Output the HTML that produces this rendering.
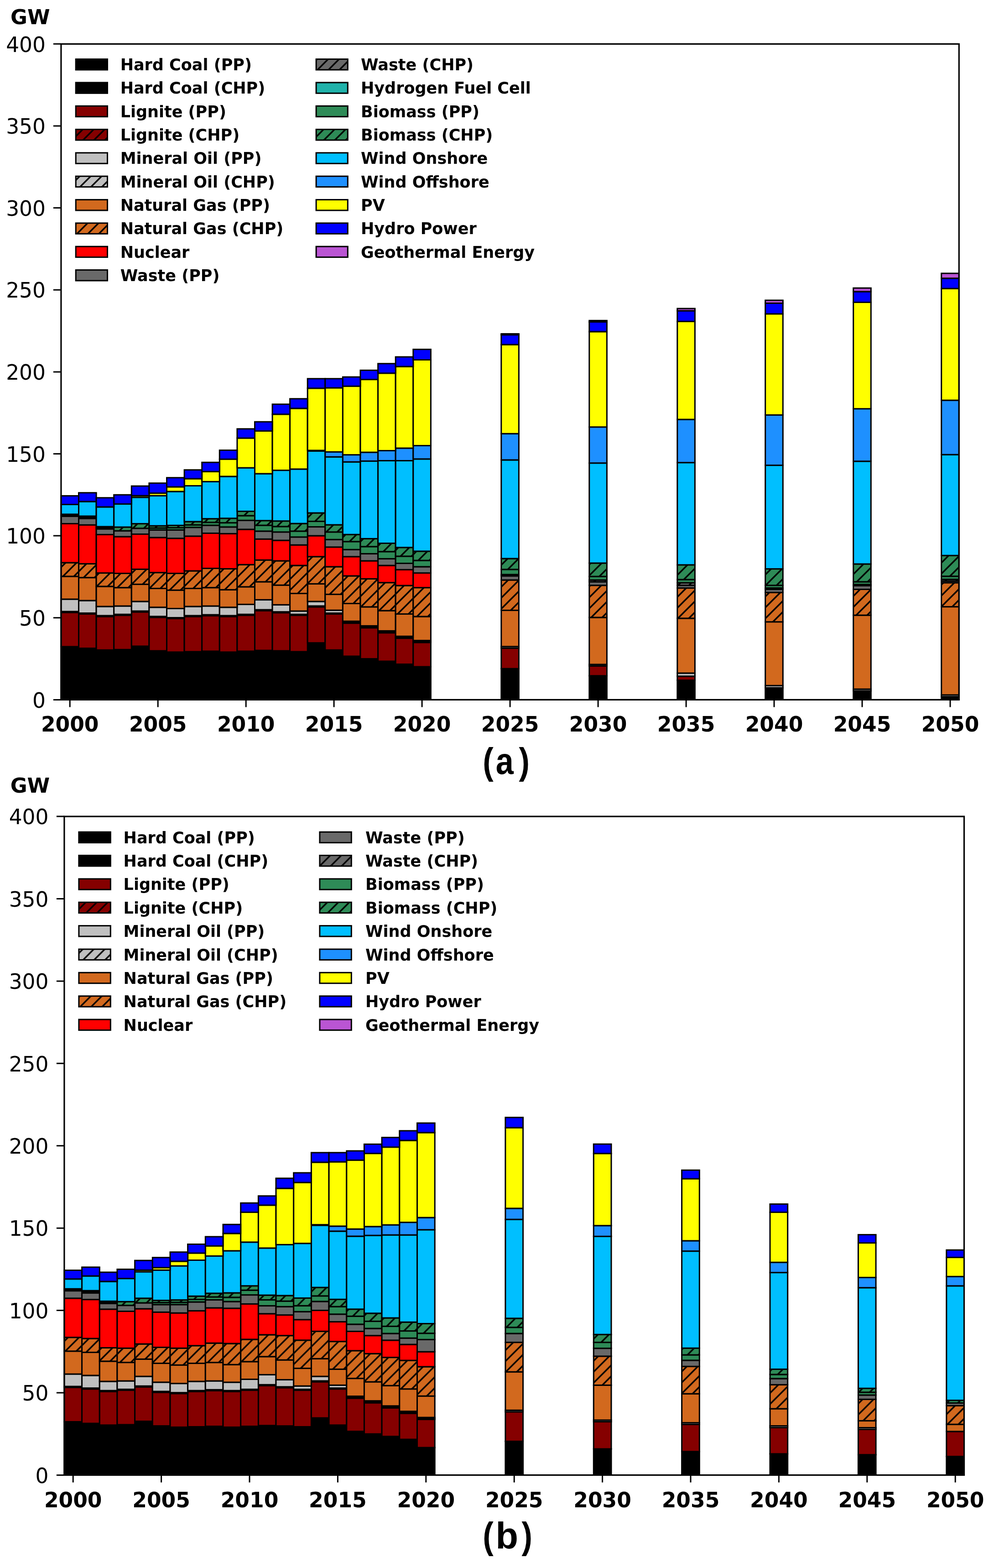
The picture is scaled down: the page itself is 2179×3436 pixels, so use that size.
<!DOCTYPE html><html><head><meta charset="utf-8"><title>Installed capacity</title><style>html,body{margin:0;padding:0;background:#fff;}svg{display:block;}.e{stroke:#000;stroke-width:3.0px;fill-opacity:1}rect.e[fill="none"]{}.yt{font-family:"DejaVu Sans","Liberation Sans",sans-serif;font-size:45.5px;text-anchor:end;fill:#000}.xt{font-family:"DejaVu Sans","Liberation Sans",sans-serif;font-weight:bold;font-size:45.5px;text-anchor:middle;fill:#000}.lg{font-family:"DejaVu Sans","Liberation Sans",sans-serif;font-weight:bold;font-size:35px;fill:#000}.gw{font-family:"DejaVu Sans","Liberation Sans",sans-serif;font-weight:bold;font-size:45px;fill:#000}.lab{font-family:"Liberation Sans",Arial,sans-serif;font-weight:bold;font-size:81px;fill:#000}</style></head><body><svg width="2179" height="3436" viewBox="0 0 2179 3436">
<defs><pattern id="ha" patternUnits="userSpaceOnUse" x="9.000" y="0" width="24.000" height="24.000"><path d="M-2,2L2,-2M0,24.000L24.000,0M22.000,26.000L26.000,22.000" stroke="#000" stroke-width="3.4"/></pattern><pattern id="hb" patternUnits="userSpaceOnUse" x="23.070" y="0" width="24.070" height="24.070"><path d="M-2,2L2,-2M0,24.070L24.070,0M22.070,26.070L26.070,22.070" stroke="#000" stroke-width="3.4"/></pattern><pattern id="hbl" patternUnits="userSpaceOnUse" x="23.070" y="0" width="24.070" height="24.070"><path d="M-2,2L2,-2M0,24.070L24.070,0M22.070,26.070L26.070,22.070" stroke="#000" stroke-width="3.4"/></pattern></defs>
<g>
<rect width="2179" height="3436" fill="#fff"/>
<g><rect x="133.9" y="1417" width="38.6" height="116.4" fill="#000000" class="e"/>
<rect x="172.5" y="1420.6" width="38.6" height="112.8" fill="#000000" class="e"/>
<rect x="211.1" y="1424.3" width="38.6" height="109.1" fill="#000000" class="e"/>
<rect x="249.7" y="1423.4" width="38.6" height="110" fill="#000000" class="e"/>
<rect x="288.3" y="1416" width="38.6" height="117.4" fill="#000000" class="e"/>
<rect x="326.9" y="1426.1" width="38.6" height="107.3" fill="#000000" class="e"/>
<rect x="365.5" y="1428.9" width="38.6" height="104.5" fill="#000000" class="e"/>
<rect x="404.1" y="1428" width="38.6" height="105.4" fill="#000000" class="e"/>
<rect x="442.7" y="1427" width="38.6" height="106.4" fill="#000000" class="e"/>
<rect x="481.3" y="1428.9" width="38.6" height="104.5" fill="#000000" class="e"/>
<rect x="519.9" y="1427" width="38.6" height="106.4" fill="#000000" class="e"/>
<rect x="558.5" y="1425.2" width="38.6" height="108.2" fill="#000000" class="e"/>
<rect x="597.1" y="1426.1" width="38.6" height="107.3" fill="#000000" class="e"/>
<rect x="635.6" y="1428" width="38.6" height="105.4" fill="#000000" class="e"/>
<rect x="674.2" y="1408.7" width="38.6" height="124.7" fill="#000000" class="e"/>
<rect x="712.8" y="1424.3" width="38.6" height="109.1" fill="#000000" class="e"/>
<rect x="751.4" y="1438" width="38.6" height="95.4" fill="#000000" class="e"/>
<rect x="790" y="1443.6" width="38.6" height="89.8" fill="#000000" class="e"/>
<rect x="828.6" y="1449" width="38.6" height="84.4" fill="#000000" class="e"/>
<rect x="867.2" y="1455.5" width="38.6" height="77.9" fill="#000000" class="e"/>
<rect x="905.8" y="1461" width="38.6" height="72.4" fill="#000000" class="e"/>
<rect x="1098.8" y="1465.2" width="38.6" height="68.2" fill="#000000" class="e"/>
<rect x="1291.8" y="1480.8" width="38.6" height="52.6" fill="#000000" class="e"/>
<rect x="1484.8" y="1490.6" width="38.6" height="42.8" fill="#000000" class="e"/>
<rect x="1677.7" y="1507.2" width="38.6" height="26.2" fill="#000000" class="e"/>
<rect x="1870.7" y="1514" width="38.6" height="19.4" fill="#000000" class="e"/>
<rect x="2063.7" y="1526.7" width="38.6" height="6.7" fill="#000000" class="e"/>
<rect x="133.9" y="1342" width="38.6" height="75" fill="#850000" class="e"/>
<rect x="172.5" y="1345.5" width="38.6" height="75.1" fill="#850000" class="e"/>
<rect x="211.1" y="1351" width="38.6" height="73.3" fill="#850000" class="e"/>
<rect x="249.7" y="1348.2" width="38.6" height="75.2" fill="#850000" class="e"/>
<rect x="288.3" y="1341" width="38.6" height="75" fill="#850000" class="e"/>
<rect x="326.9" y="1352.8" width="38.6" height="73.3" fill="#850000" class="e"/>
<rect x="365.5" y="1355.5" width="38.6" height="73.4" fill="#850000" class="e"/>
<rect x="404.1" y="1351" width="38.6" height="77" fill="#850000" class="e"/>
<rect x="442.7" y="1349.1" width="38.6" height="77.9" fill="#850000" class="e"/>
<rect x="481.3" y="1351" width="38.6" height="77.9" fill="#850000" class="e"/>
<rect x="519.9" y="1348.2" width="38.6" height="78.8" fill="#850000" class="e"/>
<rect x="558.5" y="1338.1" width="38.6" height="87.1" fill="#850000" class="e"/>
<rect x="597.1" y="1342.7" width="38.6" height="83.4" fill="#850000" class="e"/>
<rect x="635.6" y="1348.2" width="38.6" height="79.8" fill="#850000" class="e"/>
<rect x="674.2" y="1329.9" width="38.6" height="78.8" fill="#850000" class="e"/>
<rect x="712.8" y="1345.5" width="38.6" height="78.8" fill="#850000" class="e"/>
<rect x="751.4" y="1365.6" width="38.6" height="72.4" fill="#850000" class="e"/>
<rect x="790" y="1375.7" width="38.6" height="67.9" fill="#850000" class="e"/>
<rect x="828.6" y="1386.7" width="38.6" height="62.3" fill="#850000" class="e"/>
<rect x="867.2" y="1398.6" width="38.6" height="56.9" fill="#850000" class="e"/>
<rect x="905.8" y="1407.8" width="38.6" height="53.2" fill="#850000" class="e"/>
<rect x="1098.8" y="1420.3" width="38.6" height="44.9" fill="#850000" class="e"/>
<rect x="1291.8" y="1459.3" width="38.6" height="21.5" fill="#850000" class="e"/>
<rect x="1484.8" y="1481.8" width="38.6" height="8.8" fill="#850000" class="e"/>
<rect x="133.9" y="1340" width="38.6" height="2" fill="#850000"/><rect x="133.9" y="1340" width="38.6" height="2" fill="url(#ha)"/><rect x="133.9" y="1340" width="38.6" height="2" fill="none" class="e"/>
<rect x="172.5" y="1343.5" width="38.6" height="2" fill="#850000"/><rect x="172.5" y="1343.5" width="38.6" height="2" fill="url(#ha)"/><rect x="172.5" y="1343.5" width="38.6" height="2" fill="none" class="e"/>
<rect x="211.1" y="1349" width="38.6" height="2" fill="#850000"/><rect x="211.1" y="1349" width="38.6" height="2" fill="url(#ha)"/><rect x="211.1" y="1349" width="38.6" height="2" fill="none" class="e"/>
<rect x="249.7" y="1346.2" width="38.6" height="2" fill="#850000"/><rect x="249.7" y="1346.2" width="38.6" height="2" fill="url(#ha)"/><rect x="249.7" y="1346.2" width="38.6" height="2" fill="none" class="e"/>
<rect x="288.3" y="1339" width="38.6" height="2" fill="#850000"/><rect x="288.3" y="1339" width="38.6" height="2" fill="url(#ha)"/><rect x="288.3" y="1339" width="38.6" height="2" fill="none" class="e"/>
<rect x="326.9" y="1350.8" width="38.6" height="2" fill="#850000"/><rect x="326.9" y="1350.8" width="38.6" height="2" fill="url(#ha)"/><rect x="326.9" y="1350.8" width="38.6" height="2" fill="none" class="e"/>
<rect x="365.5" y="1353.5" width="38.6" height="2" fill="#850000"/><rect x="365.5" y="1353.5" width="38.6" height="2" fill="url(#ha)"/><rect x="365.5" y="1353.5" width="38.6" height="2" fill="none" class="e"/>
<rect x="404.1" y="1349" width="38.6" height="2" fill="#850000"/><rect x="404.1" y="1349" width="38.6" height="2" fill="url(#ha)"/><rect x="404.1" y="1349" width="38.6" height="2" fill="none" class="e"/>
<rect x="442.7" y="1347.1" width="38.6" height="2" fill="#850000"/><rect x="442.7" y="1347.1" width="38.6" height="2" fill="url(#ha)"/><rect x="442.7" y="1347.1" width="38.6" height="2" fill="none" class="e"/>
<rect x="481.3" y="1349" width="38.6" height="2" fill="#850000"/><rect x="481.3" y="1349" width="38.6" height="2" fill="url(#ha)"/><rect x="481.3" y="1349" width="38.6" height="2" fill="none" class="e"/>
<rect x="519.9" y="1346.2" width="38.6" height="2" fill="#850000"/><rect x="519.9" y="1346.2" width="38.6" height="2" fill="url(#ha)"/><rect x="519.9" y="1346.2" width="38.6" height="2" fill="none" class="e"/>
<rect x="558.5" y="1336.1" width="38.6" height="2" fill="#850000"/><rect x="558.5" y="1336.1" width="38.6" height="2" fill="url(#ha)"/><rect x="558.5" y="1336.1" width="38.6" height="2" fill="none" class="e"/>
<rect x="597.1" y="1340.7" width="38.6" height="2" fill="#850000"/><rect x="597.1" y="1340.7" width="38.6" height="2" fill="url(#ha)"/><rect x="597.1" y="1340.7" width="38.6" height="2" fill="none" class="e"/>
<rect x="635.6" y="1346.2" width="38.6" height="2" fill="#850000"/><rect x="635.6" y="1346.2" width="38.6" height="2" fill="url(#ha)"/><rect x="635.6" y="1346.2" width="38.6" height="2" fill="none" class="e"/>
<rect x="674.2" y="1327.9" width="38.6" height="2" fill="#850000"/><rect x="674.2" y="1327.9" width="38.6" height="2" fill="url(#ha)"/><rect x="674.2" y="1327.9" width="38.6" height="2" fill="none" class="e"/>
<rect x="712.8" y="1343.5" width="38.6" height="2" fill="#850000"/><rect x="712.8" y="1343.5" width="38.6" height="2" fill="url(#ha)"/><rect x="712.8" y="1343.5" width="38.6" height="2" fill="none" class="e"/>
<rect x="751.4" y="1363.6" width="38.6" height="2" fill="#850000"/><rect x="751.4" y="1363.6" width="38.6" height="2" fill="url(#ha)"/><rect x="751.4" y="1363.6" width="38.6" height="2" fill="none" class="e"/>
<rect x="790" y="1373.7" width="38.6" height="2" fill="#850000"/><rect x="790" y="1373.7" width="38.6" height="2" fill="url(#ha)"/><rect x="790" y="1373.7" width="38.6" height="2" fill="none" class="e"/>
<rect x="828.6" y="1384.7" width="38.6" height="2" fill="#850000"/><rect x="828.6" y="1384.7" width="38.6" height="2" fill="url(#ha)"/><rect x="828.6" y="1384.7" width="38.6" height="2" fill="none" class="e"/>
<rect x="867.2" y="1396.6" width="38.6" height="2" fill="#850000"/><rect x="867.2" y="1396.6" width="38.6" height="2" fill="url(#ha)"/><rect x="867.2" y="1396.6" width="38.6" height="2" fill="none" class="e"/>
<rect x="905.8" y="1405.8" width="38.6" height="2" fill="#850000"/><rect x="905.8" y="1405.8" width="38.6" height="2" fill="url(#ha)"/><rect x="905.8" y="1405.8" width="38.6" height="2" fill="none" class="e"/>
<rect x="133.9" y="1313" width="38.6" height="27" fill="#c0c0c0" class="e"/>
<rect x="172.5" y="1316" width="38.6" height="27.5" fill="#c0c0c0" class="e"/>
<rect x="211.1" y="1329" width="38.6" height="20" fill="#c0c0c0" class="e"/>
<rect x="249.7" y="1328" width="38.6" height="18.2" fill="#c0c0c0" class="e"/>
<rect x="288.3" y="1318" width="38.6" height="21" fill="#c0c0c0" class="e"/>
<rect x="326.9" y="1330.8" width="38.6" height="20" fill="#c0c0c0" class="e"/>
<rect x="365.5" y="1333.5" width="38.6" height="20" fill="#c0c0c0" class="e"/>
<rect x="404.1" y="1329" width="38.6" height="20" fill="#c0c0c0" class="e"/>
<rect x="442.7" y="1328" width="38.6" height="19.1" fill="#c0c0c0" class="e"/>
<rect x="481.3" y="1330.8" width="38.6" height="18.2" fill="#c0c0c0" class="e"/>
<rect x="519.9" y="1324.4" width="38.6" height="21.8" fill="#c0c0c0" class="e"/>
<rect x="558.5" y="1314.3" width="38.6" height="21.8" fill="#c0c0c0" class="e"/>
<rect x="597.1" y="1325.3" width="38.6" height="15.4" fill="#c0c0c0" class="e"/>
<rect x="635.6" y="1339" width="38.6" height="7.2" fill="#c0c0c0" class="e"/>
<rect x="674.2" y="1318" width="38.6" height="9.9" fill="#c0c0c0" class="e"/>
<rect x="712.8" y="1337.2" width="38.6" height="6.3" fill="#c0c0c0" class="e"/>
<rect x="751.4" y="1361.3" width="38.6" height="2.3" fill="#c0c0c0" class="e"/>
<rect x="790" y="1371.4" width="38.6" height="2.3" fill="#c0c0c0" class="e"/>
<rect x="828.6" y="1382.4" width="38.6" height="2.3" fill="#c0c0c0" class="e"/>
<rect x="867.2" y="1394.3" width="38.6" height="2.3" fill="#c0c0c0" class="e"/>
<rect x="905.8" y="1403.5" width="38.6" height="2.3" fill="#c0c0c0" class="e"/>
<rect x="1098.8" y="1416.8" width="38.6" height="3.5" fill="#c0c0c0" class="e"/>
<rect x="1291.8" y="1456" width="38.6" height="3.3" fill="#c0c0c0" class="e"/>
<rect x="1484.8" y="1475" width="38.6" height="6.8" fill="#c0c0c0" class="e"/>
<rect x="1677.7" y="1502.3" width="38.6" height="4.9" fill="#c0c0c0" class="e"/>
<rect x="1870.7" y="1510.1" width="38.6" height="3.9" fill="#c0c0c0" class="e"/>
<rect x="2063.7" y="1522.8" width="38.6" height="3.9" fill="#c0c0c0" class="e"/>
<rect x="133.9" y="1263" width="38.6" height="50" fill="#d2691e" class="e"/>
<rect x="172.5" y="1265.7" width="38.6" height="50.3" fill="#d2691e" class="e"/>
<rect x="211.1" y="1285" width="38.6" height="44" fill="#d2691e" class="e"/>
<rect x="249.7" y="1287.7" width="38.6" height="40.3" fill="#d2691e" class="e"/>
<rect x="288.3" y="1280.4" width="38.6" height="37.6" fill="#d2691e" class="e"/>
<rect x="326.9" y="1289.5" width="38.6" height="41.3" fill="#d2691e" class="e"/>
<rect x="365.5" y="1293.2" width="38.6" height="40.3" fill="#d2691e" class="e"/>
<rect x="404.1" y="1289.5" width="38.6" height="39.5" fill="#d2691e" class="e"/>
<rect x="442.7" y="1287.7" width="38.6" height="40.3" fill="#d2691e" class="e"/>
<rect x="481.3" y="1292.3" width="38.6" height="38.5" fill="#d2691e" class="e"/>
<rect x="519.9" y="1285.9" width="38.6" height="38.5" fill="#d2691e" class="e"/>
<rect x="558.5" y="1274.9" width="38.6" height="39.4" fill="#d2691e" class="e"/>
<rect x="597.1" y="1282.2" width="38.6" height="43.1" fill="#d2691e" class="e"/>
<rect x="635.6" y="1300.5" width="38.6" height="38.5" fill="#d2691e" class="e"/>
<rect x="674.2" y="1279.4" width="38.6" height="38.6" fill="#d2691e" class="e"/>
<rect x="712.8" y="1302.4" width="38.6" height="34.8" fill="#d2691e" class="e"/>
<rect x="751.4" y="1322.5" width="38.6" height="38.8" fill="#d2691e" class="e"/>
<rect x="790" y="1329.9" width="38.6" height="41.5" fill="#d2691e" class="e"/>
<rect x="828.6" y="1338.1" width="38.6" height="44.3" fill="#d2691e" class="e"/>
<rect x="867.2" y="1345.5" width="38.6" height="48.8" fill="#d2691e" class="e"/>
<rect x="905.8" y="1351" width="38.6" height="52.5" fill="#d2691e" class="e"/>
<rect x="1098.8" y="1337.4" width="38.6" height="79.4" fill="#d2691e" class="e"/>
<rect x="1291.8" y="1353" width="38.6" height="103" fill="#d2691e" class="e"/>
<rect x="1484.8" y="1354.9" width="38.6" height="120.1" fill="#d2691e" class="e"/>
<rect x="1677.7" y="1362.7" width="38.6" height="139.6" fill="#d2691e" class="e"/>
<rect x="1870.7" y="1348.1" width="38.6" height="162" fill="#d2691e" class="e"/>
<rect x="2063.7" y="1329.6" width="38.6" height="193.2" fill="#d2691e" class="e"/>
<rect x="133.9" y="1233" width="38.6" height="30" fill="#d2691e"/><rect x="133.9" y="1233" width="38.6" height="30" fill="url(#ha)"/><rect x="133.9" y="1233" width="38.6" height="30" fill="none" class="e"/>
<rect x="172.5" y="1235.4" width="38.6" height="30.3" fill="#d2691e"/><rect x="172.5" y="1235.4" width="38.6" height="30.3" fill="url(#ha)"/><rect x="172.5" y="1235.4" width="38.6" height="30.3" fill="none" class="e"/>
<rect x="211.1" y="1255.6" width="38.6" height="29.4" fill="#d2691e"/><rect x="211.1" y="1255.6" width="38.6" height="29.4" fill="url(#ha)"/><rect x="211.1" y="1255.6" width="38.6" height="29.4" fill="none" class="e"/>
<rect x="249.7" y="1256.5" width="38.6" height="31.2" fill="#d2691e"/><rect x="249.7" y="1256.5" width="38.6" height="31.2" fill="url(#ha)"/><rect x="249.7" y="1256.5" width="38.6" height="31.2" fill="none" class="e"/>
<rect x="288.3" y="1247.4" width="38.6" height="33" fill="#d2691e"/><rect x="288.3" y="1247.4" width="38.6" height="33" fill="url(#ha)"/><rect x="288.3" y="1247.4" width="38.6" height="33" fill="none" class="e"/>
<rect x="326.9" y="1254.7" width="38.6" height="34.8" fill="#d2691e"/><rect x="326.9" y="1254.7" width="38.6" height="34.8" fill="url(#ha)"/><rect x="326.9" y="1254.7" width="38.6" height="34.8" fill="none" class="e"/>
<rect x="365.5" y="1256.5" width="38.6" height="36.7" fill="#d2691e"/><rect x="365.5" y="1256.5" width="38.6" height="36.7" fill="url(#ha)"/><rect x="365.5" y="1256.5" width="38.6" height="36.7" fill="none" class="e"/>
<rect x="404.1" y="1251" width="38.6" height="38.5" fill="#d2691e"/><rect x="404.1" y="1251" width="38.6" height="38.5" fill="url(#ha)"/><rect x="404.1" y="1251" width="38.6" height="38.5" fill="none" class="e"/>
<rect x="442.7" y="1245.5" width="38.6" height="42.2" fill="#d2691e"/><rect x="442.7" y="1245.5" width="38.6" height="42.2" fill="url(#ha)"/><rect x="442.7" y="1245.5" width="38.6" height="42.2" fill="none" class="e"/>
<rect x="481.3" y="1246.4" width="38.6" height="45.9" fill="#d2691e"/><rect x="481.3" y="1246.4" width="38.6" height="45.9" fill="url(#ha)"/><rect x="481.3" y="1246.4" width="38.6" height="45.9" fill="none" class="e"/>
<rect x="519.9" y="1237.3" width="38.6" height="48.6" fill="#d2691e"/><rect x="519.9" y="1237.3" width="38.6" height="48.6" fill="url(#ha)"/><rect x="519.9" y="1237.3" width="38.6" height="48.6" fill="none" class="e"/>
<rect x="558.5" y="1227.2" width="38.6" height="47.7" fill="#d2691e"/><rect x="558.5" y="1227.2" width="38.6" height="47.7" fill="url(#ha)"/><rect x="558.5" y="1227.2" width="38.6" height="47.7" fill="none" class="e"/>
<rect x="597.1" y="1229" width="38.6" height="53.2" fill="#d2691e"/><rect x="597.1" y="1229" width="38.6" height="53.2" fill="url(#ha)"/><rect x="597.1" y="1229" width="38.6" height="53.2" fill="none" class="e"/>
<rect x="635.6" y="1239.1" width="38.6" height="61.4" fill="#d2691e"/><rect x="635.6" y="1239.1" width="38.6" height="61.4" fill="url(#ha)"/><rect x="635.6" y="1239.1" width="38.6" height="61.4" fill="none" class="e"/>
<rect x="674.2" y="1219.8" width="38.6" height="59.6" fill="#d2691e"/><rect x="674.2" y="1219.8" width="38.6" height="59.6" fill="url(#ha)"/><rect x="674.2" y="1219.8" width="38.6" height="59.6" fill="none" class="e"/>
<rect x="712.8" y="1241.9" width="38.6" height="60.5" fill="#d2691e"/><rect x="712.8" y="1241.9" width="38.6" height="60.5" fill="url(#ha)"/><rect x="712.8" y="1241.9" width="38.6" height="60.5" fill="none" class="e"/>
<rect x="751.4" y="1262" width="38.6" height="60.5" fill="#d2691e"/><rect x="751.4" y="1262" width="38.6" height="60.5" fill="url(#ha)"/><rect x="751.4" y="1262" width="38.6" height="60.5" fill="none" class="e"/>
<rect x="790" y="1268.4" width="38.6" height="61.5" fill="#d2691e"/><rect x="790" y="1268.4" width="38.6" height="61.5" fill="url(#ha)"/><rect x="790" y="1268.4" width="38.6" height="61.5" fill="none" class="e"/>
<rect x="828.6" y="1276.7" width="38.6" height="61.4" fill="#d2691e"/><rect x="828.6" y="1276.7" width="38.6" height="61.4" fill="url(#ha)"/><rect x="828.6" y="1276.7" width="38.6" height="61.4" fill="none" class="e"/>
<rect x="867.2" y="1283.1" width="38.6" height="62.4" fill="#d2691e"/><rect x="867.2" y="1283.1" width="38.6" height="62.4" fill="url(#ha)"/><rect x="867.2" y="1283.1" width="38.6" height="62.4" fill="none" class="e"/>
<rect x="905.8" y="1287.7" width="38.6" height="63.3" fill="#d2691e"/><rect x="905.8" y="1287.7" width="38.6" height="63.3" fill="url(#ha)"/><rect x="905.8" y="1287.7" width="38.6" height="63.3" fill="none" class="e"/>
<rect x="1098.8" y="1271" width="38.6" height="66.4" fill="#d2691e"/><rect x="1098.8" y="1271" width="38.6" height="66.4" fill="url(#ha)"/><rect x="1098.8" y="1271" width="38.6" height="66.4" fill="none" class="e"/>
<rect x="1291.8" y="1282.7" width="38.6" height="70.3" fill="#d2691e"/><rect x="1291.8" y="1282.7" width="38.6" height="70.3" fill="url(#ha)"/><rect x="1291.8" y="1282.7" width="38.6" height="70.3" fill="none" class="e"/>
<rect x="1484.8" y="1288.6" width="38.6" height="66.3" fill="#d2691e"/><rect x="1484.8" y="1288.6" width="38.6" height="66.3" fill="url(#ha)"/><rect x="1484.8" y="1288.6" width="38.6" height="66.3" fill="none" class="e"/>
<rect x="1677.7" y="1298.3" width="38.6" height="64.4" fill="#d2691e"/><rect x="1677.7" y="1298.3" width="38.6" height="64.4" fill="url(#ha)"/><rect x="1677.7" y="1298.3" width="38.6" height="64.4" fill="none" class="e"/>
<rect x="1870.7" y="1291.5" width="38.6" height="56.6" fill="#d2691e"/><rect x="1870.7" y="1291.5" width="38.6" height="56.6" fill="url(#ha)"/><rect x="1870.7" y="1291.5" width="38.6" height="56.6" fill="none" class="e"/>
<rect x="2063.7" y="1276.9" width="38.6" height="52.7" fill="#d2691e"/><rect x="2063.7" y="1276.9" width="38.6" height="52.7" fill="url(#ha)"/><rect x="2063.7" y="1276.9" width="38.6" height="52.7" fill="none" class="e"/>
<rect x="133.9" y="1147.5" width="38.6" height="85.5" fill="#ff0000" class="e"/>
<rect x="172.5" y="1150.3" width="38.6" height="85.1" fill="#ff0000" class="e"/>
<rect x="211.1" y="1171.4" width="38.6" height="84.2" fill="#ff0000" class="e"/>
<rect x="249.7" y="1176" width="38.6" height="80.5" fill="#ff0000" class="e"/>
<rect x="288.3" y="1170.5" width="38.6" height="76.9" fill="#ff0000" class="e"/>
<rect x="326.9" y="1177.9" width="38.6" height="76.8" fill="#ff0000" class="e"/>
<rect x="365.5" y="1179.7" width="38.6" height="76.8" fill="#ff0000" class="e"/>
<rect x="404.1" y="1174.9" width="38.6" height="76.1" fill="#ff0000" class="e"/>
<rect x="442.7" y="1168.5" width="38.6" height="77" fill="#ff0000" class="e"/>
<rect x="481.3" y="1169.4" width="38.6" height="77" fill="#ff0000" class="e"/>
<rect x="519.9" y="1160" width="38.6" height="77.3" fill="#ff0000" class="e"/>
<rect x="558.5" y="1181.3" width="38.6" height="45.9" fill="#ff0000" class="e"/>
<rect x="597.1" y="1184.1" width="38.6" height="44.9" fill="#ff0000" class="e"/>
<rect x="635.6" y="1194.2" width="38.6" height="44.9" fill="#ff0000" class="e"/>
<rect x="674.2" y="1174" width="38.6" height="45.8" fill="#ff0000" class="e"/>
<rect x="712.8" y="1198.8" width="38.6" height="43.1" fill="#ff0000" class="e"/>
<rect x="751.4" y="1219.8" width="38.6" height="42.2" fill="#ff0000" class="e"/>
<rect x="790" y="1229" width="38.6" height="39.4" fill="#ff0000" class="e"/>
<rect x="828.6" y="1239.1" width="38.6" height="37.6" fill="#ff0000" class="e"/>
<rect x="867.2" y="1248.3" width="38.6" height="34.8" fill="#ff0000" class="e"/>
<rect x="905.8" y="1255.6" width="38.6" height="32.1" fill="#ff0000" class="e"/>
<rect x="133.9" y="1131.3" width="38.6" height="16.2" fill="#696969" class="e"/>
<rect x="172.5" y="1136" width="38.6" height="14.3" fill="#696969" class="e"/>
<rect x="211.1" y="1159" width="38.6" height="12.4" fill="#696969" class="e"/>
<rect x="249.7" y="1163.2" width="38.6" height="12.8" fill="#696969" class="e"/>
<rect x="288.3" y="1157.7" width="38.6" height="12.8" fill="#696969" class="e"/>
<rect x="326.9" y="1161.4" width="38.6" height="16.5" fill="#696969" class="e"/>
<rect x="365.5" y="1161.4" width="38.6" height="18.3" fill="#696969" class="e"/>
<rect x="404.1" y="1155.7" width="38.6" height="19.2" fill="#696969" class="e"/>
<rect x="442.7" y="1151.1" width="38.6" height="17.4" fill="#696969" class="e"/>
<rect x="481.3" y="1154.8" width="38.6" height="14.6" fill="#696969" class="e"/>
<rect x="519.9" y="1140.3" width="38.6" height="19.7" fill="#696969" class="e"/>
<rect x="558.5" y="1163.9" width="38.6" height="17.4" fill="#696969" class="e"/>
<rect x="597.1" y="1165.8" width="38.6" height="18.3" fill="#696969" class="e"/>
<rect x="635.6" y="1176.8" width="38.6" height="17.4" fill="#696969" class="e"/>
<rect x="674.2" y="1154.5" width="38.6" height="19.5" fill="#696969" class="e"/>
<rect x="712.8" y="1182.3" width="38.6" height="16.5" fill="#696969" class="e"/>
<rect x="751.4" y="1204.3" width="38.6" height="15.5" fill="#696969" class="e"/>
<rect x="790" y="1213.4" width="38.6" height="15.6" fill="#696969" class="e"/>
<rect x="828.6" y="1224.4" width="38.6" height="14.7" fill="#696969" class="e"/>
<rect x="867.2" y="1234.5" width="38.6" height="13.8" fill="#696969" class="e"/>
<rect x="905.8" y="1241.9" width="38.6" height="13.7" fill="#696969" class="e"/>
<rect x="1098.8" y="1262" width="38.6" height="9" fill="#696969" class="e"/>
<rect x="1291.8" y="1274.9" width="38.6" height="7.8" fill="#696969" class="e"/>
<rect x="1484.8" y="1282.7" width="38.6" height="5.9" fill="#696969" class="e"/>
<rect x="1677.7" y="1291.5" width="38.6" height="6.8" fill="#696969" class="e"/>
<rect x="1870.7" y="1283.5" width="38.6" height="8" fill="#696969" class="e"/>
<rect x="2063.7" y="1273.2" width="38.6" height="3.7" fill="#696969" class="e"/>
<rect x="133.9" y="1129.1" width="38.6" height="2.2" fill="#696969"/><rect x="133.9" y="1129.1" width="38.6" height="2.2" fill="url(#ha)"/><rect x="133.9" y="1129.1" width="38.6" height="2.2" fill="none" class="e"/>
<rect x="172.5" y="1133.5" width="38.6" height="2.5" fill="#696969"/><rect x="172.5" y="1133.5" width="38.6" height="2.5" fill="url(#ha)"/><rect x="172.5" y="1133.5" width="38.6" height="2.5" fill="none" class="e"/>
<rect x="211.1" y="1156.5" width="38.6" height="2.5" fill="#696969"/><rect x="211.1" y="1156.5" width="38.6" height="2.5" fill="url(#ha)"/><rect x="211.1" y="1156.5" width="38.6" height="2.5" fill="none" class="e"/>
<rect x="1098.8" y="1259" width="38.6" height="3" fill="#696969"/><rect x="1098.8" y="1259" width="38.6" height="3" fill="url(#ha)"/><rect x="1098.8" y="1259" width="38.6" height="3" fill="none" class="e"/>
<rect x="1291.8" y="1271" width="38.6" height="3.9" fill="#696969"/><rect x="1291.8" y="1271" width="38.6" height="3.9" fill="url(#ha)"/><rect x="1291.8" y="1271" width="38.6" height="3.9" fill="none" class="e"/>
<rect x="1484.8" y="1277" width="38.6" height="5.7" fill="#696969"/><rect x="1484.8" y="1277" width="38.6" height="5.7" fill="url(#ha)"/><rect x="1484.8" y="1277" width="38.6" height="5.7" fill="none" class="e"/>
<rect x="1677.7" y="1288.5" width="38.6" height="3" fill="#696969"/><rect x="1677.7" y="1288.5" width="38.6" height="3" fill="url(#ha)"/><rect x="1677.7" y="1288.5" width="38.6" height="3" fill="none" class="e"/>
<rect x="1870.7" y="1280.8" width="38.6" height="2.7" fill="#696969"/><rect x="1870.7" y="1280.8" width="38.6" height="2.7" fill="url(#ha)"/><rect x="1870.7" y="1280.8" width="38.6" height="2.7" fill="none" class="e"/>
<rect x="2063.7" y="1269.6" width="38.6" height="3.6" fill="#696969"/><rect x="2063.7" y="1269.6" width="38.6" height="3.6" fill="url(#ha)"/><rect x="2063.7" y="1269.6" width="38.6" height="3.6" fill="none" class="e"/>
<rect x="133.9" y="1126.9" width="38.6" height="2.2" fill="#2e8b57" class="e"/>
<rect x="172.5" y="1131" width="38.6" height="2.5" fill="#2e8b57" class="e"/>
<rect x="211.1" y="1154" width="38.6" height="2.5" fill="#2e8b57" class="e"/>
<rect x="326.9" y="1157" width="38.6" height="4.4" fill="#2e8b57" class="e"/>
<rect x="365.5" y="1156.5" width="38.6" height="4.9" fill="#2e8b57" class="e"/>
<rect x="404.1" y="1150.2" width="38.6" height="5.5" fill="#2e8b57" class="e"/>
<rect x="442.7" y="1144.7" width="38.6" height="6.4" fill="#2e8b57" class="e"/>
<rect x="481.3" y="1145.6" width="38.6" height="9.2" fill="#2e8b57" class="e"/>
<rect x="519.9" y="1130" width="38.6" height="10.3" fill="#2e8b57" class="e"/>
<rect x="558.5" y="1151.1" width="38.6" height="12.8" fill="#2e8b57" class="e"/>
<rect x="597.1" y="1153.8" width="38.6" height="12" fill="#2e8b57" class="e"/>
<rect x="635.6" y="1163.9" width="38.6" height="12.9" fill="#2e8b57" class="e"/>
<rect x="674.2" y="1142.5" width="38.6" height="12" fill="#2e8b57" class="e"/>
<rect x="712.8" y="1165.8" width="38.6" height="16.5" fill="#2e8b57" class="e"/>
<rect x="751.4" y="1186.8" width="38.6" height="17.5" fill="#2e8b57" class="e"/>
<rect x="790" y="1197.8" width="38.6" height="15.6" fill="#2e8b57" class="e"/>
<rect x="828.6" y="1208.8" width="38.6" height="15.6" fill="#2e8b57" class="e"/>
<rect x="867.2" y="1218.9" width="38.6" height="15.6" fill="#2e8b57" class="e"/>
<rect x="905.8" y="1228.1" width="38.6" height="13.8" fill="#2e8b57" class="e"/>
<rect x="1098.8" y="1247.8" width="38.6" height="11.2" fill="#2e8b57" class="e"/>
<rect x="1291.8" y="1263.2" width="38.6" height="7.8" fill="#2e8b57" class="e"/>
<rect x="1484.8" y="1270" width="38.6" height="7" fill="#2e8b57" class="e"/>
<rect x="1677.7" y="1282.7" width="38.6" height="5.8" fill="#2e8b57" class="e"/>
<rect x="1870.7" y="1274.9" width="38.6" height="5.9" fill="#2e8b57" class="e"/>
<rect x="2063.7" y="1262.8" width="38.6" height="6.8" fill="#2e8b57" class="e"/>
<rect x="249.7" y="1155" width="38.6" height="8.2" fill="#2e8b57"/><rect x="249.7" y="1155" width="38.6" height="8.2" fill="url(#ha)"/><rect x="249.7" y="1155" width="38.6" height="8.2" fill="none" class="e"/>
<rect x="288.3" y="1147.6" width="38.6" height="10.1" fill="#2e8b57"/><rect x="288.3" y="1147.6" width="38.6" height="10.1" fill="url(#ha)"/><rect x="288.3" y="1147.6" width="38.6" height="10.1" fill="none" class="e"/>
<rect x="326.9" y="1152.2" width="38.6" height="4.8" fill="#2e8b57"/><rect x="326.9" y="1152.2" width="38.6" height="4.8" fill="url(#ha)"/><rect x="326.9" y="1152.2" width="38.6" height="4.8" fill="none" class="e"/>
<rect x="365.5" y="1151.3" width="38.6" height="5.2" fill="#2e8b57"/><rect x="365.5" y="1151.3" width="38.6" height="5.2" fill="url(#ha)"/><rect x="365.5" y="1151.3" width="38.6" height="5.2" fill="none" class="e"/>
<rect x="404.1" y="1143" width="38.6" height="7.2" fill="#2e8b57"/><rect x="404.1" y="1143" width="38.6" height="7.2" fill="url(#ha)"/><rect x="404.1" y="1143" width="38.6" height="7.2" fill="none" class="e"/>
<rect x="442.7" y="1136.7" width="38.6" height="8" fill="#2e8b57"/><rect x="442.7" y="1136.7" width="38.6" height="8" fill="url(#ha)"/><rect x="442.7" y="1136.7" width="38.6" height="8" fill="none" class="e"/>
<rect x="481.3" y="1135.8" width="38.6" height="9.8" fill="#2e8b57"/><rect x="481.3" y="1135.8" width="38.6" height="9.8" fill="url(#ha)"/><rect x="481.3" y="1135.8" width="38.6" height="9.8" fill="none" class="e"/>
<rect x="519.9" y="1120.5" width="38.6" height="9.5" fill="#2e8b57"/><rect x="519.9" y="1120.5" width="38.6" height="9.5" fill="url(#ha)"/><rect x="519.9" y="1120.5" width="38.6" height="9.5" fill="none" class="e"/>
<rect x="558.5" y="1140.8" width="38.6" height="10.3" fill="#2e8b57"/><rect x="558.5" y="1140.8" width="38.6" height="10.3" fill="url(#ha)"/><rect x="558.5" y="1140.8" width="38.6" height="10.3" fill="none" class="e"/>
<rect x="597.1" y="1141.7" width="38.6" height="12.1" fill="#2e8b57"/><rect x="597.1" y="1141.7" width="38.6" height="12.1" fill="url(#ha)"/><rect x="597.1" y="1141.7" width="38.6" height="12.1" fill="none" class="e"/>
<rect x="635.6" y="1147.2" width="38.6" height="16.7" fill="#2e8b57"/><rect x="635.6" y="1147.2" width="38.6" height="16.7" fill="url(#ha)"/><rect x="635.6" y="1147.2" width="38.6" height="16.7" fill="none" class="e"/>
<rect x="674.2" y="1124" width="38.6" height="18.5" fill="#2e8b57"/><rect x="674.2" y="1124" width="38.6" height="18.5" fill="url(#ha)"/><rect x="674.2" y="1124" width="38.6" height="18.5" fill="none" class="e"/>
<rect x="712.8" y="1150" width="38.6" height="15.8" fill="#2e8b57"/><rect x="712.8" y="1150" width="38.6" height="15.8" fill="url(#ha)"/><rect x="712.8" y="1150" width="38.6" height="15.8" fill="none" class="e"/>
<rect x="751.4" y="1171.3" width="38.6" height="15.5" fill="#2e8b57"/><rect x="751.4" y="1171.3" width="38.6" height="15.5" fill="url(#ha)"/><rect x="751.4" y="1171.3" width="38.6" height="15.5" fill="none" class="e"/>
<rect x="790" y="1180.4" width="38.6" height="17.4" fill="#2e8b57"/><rect x="790" y="1180.4" width="38.6" height="17.4" fill="url(#ha)"/><rect x="790" y="1180.4" width="38.6" height="17.4" fill="none" class="e"/>
<rect x="828.6" y="1190.5" width="38.6" height="18.3" fill="#2e8b57"/><rect x="828.6" y="1190.5" width="38.6" height="18.3" fill="url(#ha)"/><rect x="828.6" y="1190.5" width="38.6" height="18.3" fill="none" class="e"/>
<rect x="867.2" y="1199.7" width="38.6" height="19.2" fill="#2e8b57"/><rect x="867.2" y="1199.7" width="38.6" height="19.2" fill="url(#ha)"/><rect x="867.2" y="1199.7" width="38.6" height="19.2" fill="none" class="e"/>
<rect x="905.8" y="1207.9" width="38.6" height="20.2" fill="#2e8b57"/><rect x="905.8" y="1207.9" width="38.6" height="20.2" fill="url(#ha)"/><rect x="905.8" y="1207.9" width="38.6" height="20.2" fill="none" class="e"/>
<rect x="1098.8" y="1224" width="38.6" height="23.8" fill="#2e8b57"/><rect x="1098.8" y="1224" width="38.6" height="23.8" fill="url(#ha)"/><rect x="1098.8" y="1224" width="38.6" height="23.8" fill="none" class="e"/>
<rect x="1291.8" y="1233.9" width="38.6" height="29.3" fill="#2e8b57"/><rect x="1291.8" y="1233.9" width="38.6" height="29.3" fill="url(#ha)"/><rect x="1291.8" y="1233.9" width="38.6" height="29.3" fill="none" class="e"/>
<rect x="1484.8" y="1237.8" width="38.6" height="32.2" fill="#2e8b57"/><rect x="1484.8" y="1237.8" width="38.6" height="32.2" fill="url(#ha)"/><rect x="1484.8" y="1237.8" width="38.6" height="32.2" fill="none" class="e"/>
<rect x="1677.7" y="1246.6" width="38.6" height="36.1" fill="#2e8b57"/><rect x="1677.7" y="1246.6" width="38.6" height="36.1" fill="url(#ha)"/><rect x="1677.7" y="1246.6" width="38.6" height="36.1" fill="none" class="e"/>
<rect x="1870.7" y="1235.9" width="38.6" height="39" fill="#2e8b57"/><rect x="1870.7" y="1235.9" width="38.6" height="39" fill="url(#ha)"/><rect x="1870.7" y="1235.9" width="38.6" height="39" fill="none" class="e"/>
<rect x="2063.7" y="1217.3" width="38.6" height="45.5" fill="#2e8b57"/><rect x="2063.7" y="1217.3" width="38.6" height="45.5" fill="url(#ha)"/><rect x="2063.7" y="1217.3" width="38.6" height="45.5" fill="none" class="e"/>
<rect x="133.9" y="1105.5" width="38.6" height="21.4" fill="#00bfff" class="e"/>
<rect x="172.5" y="1099" width="38.6" height="32" fill="#00bfff" class="e"/>
<rect x="211.1" y="1110.9" width="38.6" height="43.1" fill="#00bfff" class="e"/>
<rect x="249.7" y="1104.5" width="38.6" height="50.5" fill="#00bfff" class="e"/>
<rect x="288.3" y="1089.8" width="38.6" height="57.8" fill="#00bfff" class="e"/>
<rect x="326.9" y="1086.2" width="38.6" height="66" fill="#00bfff" class="e"/>
<rect x="365.5" y="1077" width="38.6" height="74.3" fill="#00bfff" class="e"/>
<rect x="404.1" y="1064.5" width="38.6" height="78.5" fill="#00bfff" class="e"/>
<rect x="442.7" y="1055.4" width="38.6" height="81.3" fill="#00bfff" class="e"/>
<rect x="481.3" y="1044" width="38.6" height="91.8" fill="#00bfff" class="e"/>
<rect x="519.9" y="1025.1" width="38.6" height="95.4" fill="#00bfff" class="e"/>
<rect x="558.5" y="1038" width="38.6" height="102.8" fill="#00bfff" class="e"/>
<rect x="597.1" y="1030.6" width="38.6" height="111.1" fill="#00bfff" class="e"/>
<rect x="635.6" y="1027.9" width="38.6" height="119.3" fill="#00bfff" class="e"/>
<rect x="674.2" y="988.4" width="38.6" height="135.6" fill="#00bfff" class="e"/>
<rect x="712.8" y="1001.2" width="38.6" height="148.8" fill="#00bfff" class="e"/>
<rect x="751.4" y="1012.2" width="38.6" height="159.1" fill="#00bfff" class="e"/>
<rect x="790" y="1010.4" width="38.6" height="170" fill="#00bfff" class="e"/>
<rect x="828.6" y="1009.5" width="38.6" height="181" fill="#00bfff" class="e"/>
<rect x="867.2" y="1009.5" width="38.6" height="190.2" fill="#00bfff" class="e"/>
<rect x="905.8" y="1005.8" width="38.6" height="202.1" fill="#00bfff" class="e"/>
<rect x="1098.8" y="1007.9" width="38.6" height="216.1" fill="#00bfff" class="e"/>
<rect x="1291.8" y="1014.7" width="38.6" height="219.2" fill="#00bfff" class="e"/>
<rect x="1484.8" y="1013.7" width="38.6" height="224.1" fill="#00bfff" class="e"/>
<rect x="1677.7" y="1019.6" width="38.6" height="227" fill="#00bfff" class="e"/>
<rect x="1870.7" y="1010.8" width="38.6" height="225.1" fill="#00bfff" class="e"/>
<rect x="2063.7" y="996.2" width="38.6" height="221.1" fill="#00bfff" class="e"/>
<rect x="674.2" y="987" width="38.6" height="1.4" fill="#1e90ff" class="e"/>
<rect x="712.8" y="990.2" width="38.6" height="11" fill="#1e90ff" class="e"/>
<rect x="751.4" y="996.6" width="38.6" height="15.6" fill="#1e90ff" class="e"/>
<rect x="790" y="991.1" width="38.6" height="19.3" fill="#1e90ff" class="e"/>
<rect x="828.6" y="987.5" width="38.6" height="22" fill="#1e90ff" class="e"/>
<rect x="867.2" y="982" width="38.6" height="27.5" fill="#1e90ff" class="e"/>
<rect x="905.8" y="976.5" width="38.6" height="29.3" fill="#1e90ff" class="e"/>
<rect x="1098.8" y="950.3" width="38.6" height="57.6" fill="#1e90ff" class="e"/>
<rect x="1291.8" y="935.7" width="38.6" height="79" fill="#1e90ff" class="e"/>
<rect x="1484.8" y="919.1" width="38.6" height="94.6" fill="#1e90ff" class="e"/>
<rect x="1677.7" y="909.3" width="38.6" height="110.3" fill="#1e90ff" class="e"/>
<rect x="1870.7" y="895.7" width="38.6" height="115.1" fill="#1e90ff" class="e"/>
<rect x="2063.7" y="877.1" width="38.6" height="119.1" fill="#1e90ff" class="e"/>
<rect x="288.3" y="1086.2" width="38.6" height="3.6" fill="#ffff00" class="e"/>
<rect x="326.9" y="1080.7" width="38.6" height="5.5" fill="#ffff00" class="e"/>
<rect x="365.5" y="1066.9" width="38.6" height="10.1" fill="#ffff00" class="e"/>
<rect x="404.1" y="1049" width="38.6" height="15.5" fill="#ffff00" class="e"/>
<rect x="442.7" y="1033.4" width="38.6" height="22" fill="#ffff00" class="e"/>
<rect x="481.3" y="1006.2" width="38.6" height="37.8" fill="#ffff00" class="e"/>
<rect x="519.9" y="960" width="38.6" height="65.1" fill="#ffff00" class="e"/>
<rect x="558.5" y="944.4" width="38.6" height="93.6" fill="#ffff00" class="e"/>
<rect x="597.1" y="907.8" width="38.6" height="122.8" fill="#ffff00" class="e"/>
<rect x="635.6" y="894.9" width="38.6" height="133" fill="#ffff00" class="e"/>
<rect x="674.2" y="850.8" width="38.6" height="136.2" fill="#ffff00" class="e"/>
<rect x="712.8" y="849.9" width="38.6" height="140.3" fill="#ffff00" class="e"/>
<rect x="751.4" y="846.3" width="38.6" height="150.3" fill="#ffff00" class="e"/>
<rect x="790" y="831.6" width="38.6" height="159.5" fill="#ffff00" class="e"/>
<rect x="828.6" y="817.8" width="38.6" height="169.7" fill="#ffff00" class="e"/>
<rect x="867.2" y="803.2" width="38.6" height="178.8" fill="#ffff00" class="e"/>
<rect x="905.8" y="788.5" width="38.6" height="188" fill="#ffff00" class="e"/>
<rect x="1098.8" y="755.1" width="38.6" height="195.2" fill="#ffff00" class="e"/>
<rect x="1291.8" y="726.8" width="38.6" height="208.9" fill="#ffff00" class="e"/>
<rect x="1484.8" y="704.4" width="38.6" height="214.7" fill="#ffff00" class="e"/>
<rect x="1677.7" y="687.8" width="38.6" height="221.5" fill="#ffff00" class="e"/>
<rect x="1870.7" y="662.5" width="38.6" height="233.2" fill="#ffff00" class="e"/>
<rect x="2063.7" y="632.2" width="38.6" height="244.9" fill="#ffff00" class="e"/>
<rect x="133.9" y="1086.5" width="38.6" height="19" fill="#0000ff" class="e"/>
<rect x="172.5" y="1079.8" width="38.6" height="19.2" fill="#0000ff" class="e"/>
<rect x="211.1" y="1090.8" width="38.6" height="20.1" fill="#0000ff" class="e"/>
<rect x="249.7" y="1084.3" width="38.6" height="20.2" fill="#0000ff" class="e"/>
<rect x="288.3" y="1065.1" width="38.6" height="21.1" fill="#0000ff" class="e"/>
<rect x="326.9" y="1058.7" width="38.6" height="22" fill="#0000ff" class="e"/>
<rect x="365.5" y="1046.8" width="38.6" height="20.1" fill="#0000ff" class="e"/>
<rect x="404.1" y="1029.7" width="38.6" height="19.3" fill="#0000ff" class="e"/>
<rect x="442.7" y="1013.2" width="38.6" height="20.2" fill="#0000ff" class="e"/>
<rect x="481.3" y="986.6" width="38.6" height="19.6" fill="#0000ff" class="e"/>
<rect x="519.9" y="939.8" width="38.6" height="20.2" fill="#0000ff" class="e"/>
<rect x="558.5" y="924.3" width="38.6" height="20.1" fill="#0000ff" class="e"/>
<rect x="597.1" y="885.8" width="38.6" height="22" fill="#0000ff" class="e"/>
<rect x="635.6" y="873.8" width="38.6" height="21.1" fill="#0000ff" class="e"/>
<rect x="674.2" y="829.8" width="38.6" height="21" fill="#0000ff" class="e"/>
<rect x="712.8" y="829.8" width="38.6" height="20.1" fill="#0000ff" class="e"/>
<rect x="751.4" y="826.1" width="38.6" height="20.2" fill="#0000ff" class="e"/>
<rect x="790" y="811.4" width="38.6" height="20.2" fill="#0000ff" class="e"/>
<rect x="828.6" y="796.8" width="38.6" height="21" fill="#0000ff" class="e"/>
<rect x="867.2" y="782.1" width="38.6" height="21.1" fill="#0000ff" class="e"/>
<rect x="905.8" y="765.6" width="38.6" height="22.9" fill="#0000ff" class="e"/>
<rect x="1098.8" y="733.7" width="38.6" height="21.4" fill="#0000ff" class="e"/>
<rect x="1291.8" y="705.4" width="38.6" height="21.4" fill="#0000ff" class="e"/>
<rect x="1484.8" y="681" width="38.6" height="23.4" fill="#0000ff" class="e"/>
<rect x="1677.7" y="664.4" width="38.6" height="23.4" fill="#0000ff" class="e"/>
<rect x="1870.7" y="639" width="38.6" height="23.5" fill="#0000ff" class="e"/>
<rect x="2063.7" y="609.8" width="38.6" height="22.4" fill="#0000ff" class="e"/>
<rect x="1098.8" y="731.5" width="38.6" height="2.2" fill="#ba55d3" class="e"/>
<rect x="1291.8" y="702.4" width="38.6" height="3" fill="#ba55d3" class="e"/>
<rect x="1484.8" y="676.1" width="38.6" height="4.9" fill="#ba55d3" class="e"/>
<rect x="1677.7" y="658" width="38.6" height="6.4" fill="#ba55d3" class="e"/>
<rect x="1870.7" y="631.2" width="38.6" height="7.8" fill="#ba55d3" class="e"/>
<rect x="2063.7" y="599" width="38.6" height="10.8" fill="#ba55d3" class="e"/></g>
<g><rect x="140.9" y="3115.5" width="38.7" height="116.9" fill="#000000" class="e"/>
<rect x="179.6" y="3119.1" width="38.7" height="113.3" fill="#000000" class="e"/>
<rect x="218.3" y="3122.8" width="38.7" height="109.6" fill="#000000" class="e"/>
<rect x="256.9" y="3121.9" width="38.7" height="110.5" fill="#000000" class="e"/>
<rect x="295.6" y="3114.5" width="38.7" height="117.9" fill="#000000" class="e"/>
<rect x="334.3" y="3124.6" width="38.7" height="107.8" fill="#000000" class="e"/>
<rect x="373" y="3127.4" width="38.7" height="105" fill="#000000" class="e"/>
<rect x="411.6" y="3126.5" width="38.7" height="105.9" fill="#000000" class="e"/>
<rect x="450.3" y="3125.5" width="38.7" height="106.9" fill="#000000" class="e"/>
<rect x="489" y="3127.4" width="38.7" height="105" fill="#000000" class="e"/>
<rect x="527.7" y="3125.5" width="38.7" height="106.9" fill="#000000" class="e"/>
<rect x="566.4" y="3123.7" width="38.7" height="108.7" fill="#000000" class="e"/>
<rect x="605" y="3124.6" width="38.7" height="107.8" fill="#000000" class="e"/>
<rect x="643.7" y="3126.5" width="38.7" height="105.9" fill="#000000" class="e"/>
<rect x="682.4" y="3107.2" width="38.7" height="125.2" fill="#000000" class="e"/>
<rect x="721.1" y="3122.8" width="38.7" height="109.6" fill="#000000" class="e"/>
<rect x="759.8" y="3136.6" width="38.7" height="95.8" fill="#000000" class="e"/>
<rect x="798.4" y="3142.2" width="38.7" height="90.2" fill="#000000" class="e"/>
<rect x="837.1" y="3147.6" width="38.7" height="84.8" fill="#000000" class="e"/>
<rect x="875.8" y="3154.2" width="38.7" height="78.2" fill="#000000" class="e"/>
<rect x="914.5" y="3172.1" width="38.7" height="60.3" fill="#000000" class="e"/>
<rect x="1107.9" y="3158.4" width="38.7" height="74" fill="#000000" class="e"/>
<rect x="1301.3" y="3175" width="38.7" height="57.4" fill="#000000" class="e"/>
<rect x="1494.6" y="3180.8" width="38.7" height="51.6" fill="#000000" class="e"/>
<rect x="1688" y="3185.9" width="38.7" height="46.5" fill="#000000" class="e"/>
<rect x="1881.4" y="3187.7" width="38.7" height="44.7" fill="#000000" class="e"/>
<rect x="2074.8" y="3191.6" width="38.7" height="40.8" fill="#000000" class="e"/>
<rect x="140.9" y="3040.2" width="38.7" height="75.3" fill="#850000" class="e"/>
<rect x="179.6" y="3043.7" width="38.7" height="75.4" fill="#850000" class="e"/>
<rect x="218.3" y="3049.2" width="38.7" height="73.6" fill="#850000" class="e"/>
<rect x="256.9" y="3046.4" width="38.7" height="75.5" fill="#850000" class="e"/>
<rect x="295.6" y="3039.2" width="38.7" height="75.3" fill="#850000" class="e"/>
<rect x="334.3" y="3051" width="38.7" height="73.6" fill="#850000" class="e"/>
<rect x="373" y="3053.7" width="38.7" height="73.7" fill="#850000" class="e"/>
<rect x="411.6" y="3049.2" width="38.7" height="77.3" fill="#850000" class="e"/>
<rect x="450.3" y="3047.3" width="38.7" height="78.2" fill="#850000" class="e"/>
<rect x="489" y="3049.2" width="38.7" height="78.2" fill="#850000" class="e"/>
<rect x="527.7" y="3046.4" width="38.7" height="79.1" fill="#850000" class="e"/>
<rect x="566.4" y="3036.3" width="38.7" height="87.5" fill="#850000" class="e"/>
<rect x="605" y="3040.9" width="38.7" height="83.8" fill="#850000" class="e"/>
<rect x="643.7" y="3046.4" width="38.7" height="80.1" fill="#850000" class="e"/>
<rect x="682.4" y="3028" width="38.7" height="79.1" fill="#850000" class="e"/>
<rect x="721.1" y="3043.7" width="38.7" height="79.1" fill="#850000" class="e"/>
<rect x="759.8" y="3063.9" width="38.7" height="72.7" fill="#850000" class="e"/>
<rect x="798.4" y="3074" width="38.7" height="68.2" fill="#850000" class="e"/>
<rect x="837.1" y="3085.1" width="38.7" height="62.6" fill="#850000" class="e"/>
<rect x="875.8" y="3097" width="38.7" height="57.1" fill="#850000" class="e"/>
<rect x="914.5" y="3110.4" width="38.7" height="61.7" fill="#850000" class="e"/>
<rect x="1107.9" y="3093.8" width="38.7" height="64.6" fill="#850000" class="e"/>
<rect x="1301.3" y="3115.5" width="38.7" height="59.5" fill="#850000" class="e"/>
<rect x="1494.6" y="3121.3" width="38.7" height="59.5" fill="#850000" class="e"/>
<rect x="1688" y="3128.1" width="38.7" height="57.7" fill="#850000" class="e"/>
<rect x="1881.4" y="3132.1" width="38.7" height="55.6" fill="#850000" class="e"/>
<rect x="2074.8" y="3136.8" width="38.7" height="54.8" fill="#850000" class="e"/>
<rect x="140.9" y="3038.2" width="38.7" height="2" fill="#850000"/><rect x="140.9" y="3038.2" width="38.7" height="2" fill="url(#hb)"/><rect x="140.9" y="3038.2" width="38.7" height="2" fill="none" class="e"/>
<rect x="179.6" y="3041.7" width="38.7" height="2" fill="#850000"/><rect x="179.6" y="3041.7" width="38.7" height="2" fill="url(#hb)"/><rect x="179.6" y="3041.7" width="38.7" height="2" fill="none" class="e"/>
<rect x="218.3" y="3047.2" width="38.7" height="2" fill="#850000"/><rect x="218.3" y="3047.2" width="38.7" height="2" fill="url(#hb)"/><rect x="218.3" y="3047.2" width="38.7" height="2" fill="none" class="e"/>
<rect x="256.9" y="3044.4" width="38.7" height="2" fill="#850000"/><rect x="256.9" y="3044.4" width="38.7" height="2" fill="url(#hb)"/><rect x="256.9" y="3044.4" width="38.7" height="2" fill="none" class="e"/>
<rect x="295.6" y="3037.2" width="38.7" height="2" fill="#850000"/><rect x="295.6" y="3037.2" width="38.7" height="2" fill="url(#hb)"/><rect x="295.6" y="3037.2" width="38.7" height="2" fill="none" class="e"/>
<rect x="334.3" y="3049" width="38.7" height="2" fill="#850000"/><rect x="334.3" y="3049" width="38.7" height="2" fill="url(#hb)"/><rect x="334.3" y="3049" width="38.7" height="2" fill="none" class="e"/>
<rect x="373" y="3051.7" width="38.7" height="2" fill="#850000"/><rect x="373" y="3051.7" width="38.7" height="2" fill="url(#hb)"/><rect x="373" y="3051.7" width="38.7" height="2" fill="none" class="e"/>
<rect x="411.6" y="3047.2" width="38.7" height="2" fill="#850000"/><rect x="411.6" y="3047.2" width="38.7" height="2" fill="url(#hb)"/><rect x="411.6" y="3047.2" width="38.7" height="2" fill="none" class="e"/>
<rect x="450.3" y="3045.3" width="38.7" height="2" fill="#850000"/><rect x="450.3" y="3045.3" width="38.7" height="2" fill="url(#hb)"/><rect x="450.3" y="3045.3" width="38.7" height="2" fill="none" class="e"/>
<rect x="489" y="3047.2" width="38.7" height="2" fill="#850000"/><rect x="489" y="3047.2" width="38.7" height="2" fill="url(#hb)"/><rect x="489" y="3047.2" width="38.7" height="2" fill="none" class="e"/>
<rect x="527.7" y="3044.4" width="38.7" height="2" fill="#850000"/><rect x="527.7" y="3044.4" width="38.7" height="2" fill="url(#hb)"/><rect x="527.7" y="3044.4" width="38.7" height="2" fill="none" class="e"/>
<rect x="566.4" y="3034.2" width="38.7" height="2" fill="#850000"/><rect x="566.4" y="3034.2" width="38.7" height="2" fill="url(#hb)"/><rect x="566.4" y="3034.2" width="38.7" height="2" fill="none" class="e"/>
<rect x="605" y="3038.9" width="38.7" height="2" fill="#850000"/><rect x="605" y="3038.9" width="38.7" height="2" fill="url(#hb)"/><rect x="605" y="3038.9" width="38.7" height="2" fill="none" class="e"/>
<rect x="643.7" y="3044.4" width="38.7" height="2" fill="#850000"/><rect x="643.7" y="3044.4" width="38.7" height="2" fill="url(#hb)"/><rect x="643.7" y="3044.4" width="38.7" height="2" fill="none" class="e"/>
<rect x="682.4" y="3026" width="38.7" height="2" fill="#850000"/><rect x="682.4" y="3026" width="38.7" height="2" fill="url(#hb)"/><rect x="682.4" y="3026" width="38.7" height="2" fill="none" class="e"/>
<rect x="721.1" y="3041.7" width="38.7" height="2" fill="#850000"/><rect x="721.1" y="3041.7" width="38.7" height="2" fill="url(#hb)"/><rect x="721.1" y="3041.7" width="38.7" height="2" fill="none" class="e"/>
<rect x="759.8" y="3061.9" width="38.7" height="2" fill="#850000"/><rect x="759.8" y="3061.9" width="38.7" height="2" fill="url(#hb)"/><rect x="759.8" y="3061.9" width="38.7" height="2" fill="none" class="e"/>
<rect x="798.4" y="3072" width="38.7" height="2" fill="#850000"/><rect x="798.4" y="3072" width="38.7" height="2" fill="url(#hb)"/><rect x="798.4" y="3072" width="38.7" height="2" fill="none" class="e"/>
<rect x="837.1" y="3083.1" width="38.7" height="2" fill="#850000"/><rect x="837.1" y="3083.1" width="38.7" height="2" fill="url(#hb)"/><rect x="837.1" y="3083.1" width="38.7" height="2" fill="none" class="e"/>
<rect x="875.8" y="3095" width="38.7" height="2" fill="#850000"/><rect x="875.8" y="3095" width="38.7" height="2" fill="url(#hb)"/><rect x="875.8" y="3095" width="38.7" height="2" fill="none" class="e"/>
<rect x="914.5" y="3108.4" width="38.7" height="2" fill="#850000"/><rect x="914.5" y="3108.4" width="38.7" height="2" fill="url(#hb)"/><rect x="914.5" y="3108.4" width="38.7" height="2" fill="none" class="e"/>
<rect x="140.9" y="3011" width="38.7" height="27.1" fill="#c0c0c0" class="e"/>
<rect x="179.6" y="3014.1" width="38.7" height="27.6" fill="#c0c0c0" class="e"/>
<rect x="218.3" y="3027.1" width="38.7" height="20.1" fill="#c0c0c0" class="e"/>
<rect x="256.9" y="3026.1" width="38.7" height="18.3" fill="#c0c0c0" class="e"/>
<rect x="295.6" y="3016.1" width="38.7" height="21.1" fill="#c0c0c0" class="e"/>
<rect x="334.3" y="3028.9" width="38.7" height="20.1" fill="#c0c0c0" class="e"/>
<rect x="373" y="3031.6" width="38.7" height="20.1" fill="#c0c0c0" class="e"/>
<rect x="411.6" y="3027.1" width="38.7" height="20.1" fill="#c0c0c0" class="e"/>
<rect x="450.3" y="3026.1" width="38.7" height="19.2" fill="#c0c0c0" class="e"/>
<rect x="489" y="3028.9" width="38.7" height="18.3" fill="#c0c0c0" class="e"/>
<rect x="527.7" y="3022.5" width="38.7" height="21.9" fill="#c0c0c0" class="e"/>
<rect x="566.4" y="3012.4" width="38.7" height="21.9" fill="#c0c0c0" class="e"/>
<rect x="605" y="3023.4" width="38.7" height="15.5" fill="#c0c0c0" class="e"/>
<rect x="643.7" y="3037.2" width="38.7" height="7.2" fill="#c0c0c0" class="e"/>
<rect x="682.4" y="3016.1" width="38.7" height="9.9" fill="#c0c0c0" class="e"/>
<rect x="721.1" y="3035.4" width="38.7" height="6.3" fill="#c0c0c0" class="e"/>
<rect x="759.8" y="3059.6" width="38.7" height="2.3" fill="#c0c0c0" class="e"/>
<rect x="798.4" y="3069.7" width="38.7" height="2.3" fill="#c0c0c0" class="e"/>
<rect x="837.1" y="3080.7" width="38.7" height="2.3" fill="#c0c0c0" class="e"/>
<rect x="875.8" y="3092.7" width="38.7" height="2.3" fill="#c0c0c0" class="e"/>
<rect x="914.5" y="3106.1" width="38.7" height="2.3" fill="#c0c0c0" class="e"/>
<rect x="1107.9" y="3090.2" width="38.7" height="3.6" fill="#c0c0c0" class="e"/>
<rect x="1301.3" y="3111.9" width="38.7" height="3.6" fill="#c0c0c0" class="e"/>
<rect x="1494.6" y="3117.7" width="38.7" height="3.6" fill="#c0c0c0" class="e"/>
<rect x="1688" y="3124.5" width="38.7" height="3.6" fill="#c0c0c0" class="e"/>
<rect x="1881.4" y="3128.5" width="38.7" height="3.6" fill="#c0c0c0" class="e"/>
<rect x="140.9" y="2960.8" width="38.7" height="50.2" fill="#d2691e" class="e"/>
<rect x="179.6" y="2963.5" width="38.7" height="50.5" fill="#d2691e" class="e"/>
<rect x="218.3" y="2982.9" width="38.7" height="44.2" fill="#d2691e" class="e"/>
<rect x="256.9" y="2985.6" width="38.7" height="40.5" fill="#d2691e" class="e"/>
<rect x="295.6" y="2978.3" width="38.7" height="37.8" fill="#d2691e" class="e"/>
<rect x="334.3" y="2987.4" width="38.7" height="41.5" fill="#d2691e" class="e"/>
<rect x="373" y="2991.2" width="38.7" height="40.5" fill="#d2691e" class="e"/>
<rect x="411.6" y="2987.4" width="38.7" height="39.7" fill="#d2691e" class="e"/>
<rect x="450.3" y="2985.6" width="38.7" height="40.5" fill="#d2691e" class="e"/>
<rect x="489" y="2990.3" width="38.7" height="38.7" fill="#d2691e" class="e"/>
<rect x="527.7" y="2983.8" width="38.7" height="38.7" fill="#d2691e" class="e"/>
<rect x="566.4" y="2972.8" width="38.7" height="39.6" fill="#d2691e" class="e"/>
<rect x="605" y="2980.1" width="38.7" height="43.3" fill="#d2691e" class="e"/>
<rect x="643.7" y="2998.5" width="38.7" height="38.7" fill="#d2691e" class="e"/>
<rect x="682.4" y="2977.3" width="38.7" height="38.8" fill="#d2691e" class="e"/>
<rect x="721.1" y="3000.4" width="38.7" height="35" fill="#d2691e" class="e"/>
<rect x="759.8" y="3020.6" width="38.7" height="39" fill="#d2691e" class="e"/>
<rect x="798.4" y="3028" width="38.7" height="41.7" fill="#d2691e" class="e"/>
<rect x="837.1" y="3036.3" width="38.7" height="44.5" fill="#d2691e" class="e"/>
<rect x="875.8" y="3043.7" width="38.7" height="49" fill="#d2691e" class="e"/>
<rect x="914.5" y="3059.2" width="38.7" height="46.9" fill="#d2691e" class="e"/>
<rect x="1107.9" y="3006.2" width="38.7" height="84.1" fill="#d2691e" class="e"/>
<rect x="1301.3" y="3035.4" width="38.7" height="76.5" fill="#d2691e" class="e"/>
<rect x="1494.6" y="3054.2" width="38.7" height="63.5" fill="#d2691e" class="e"/>
<rect x="1688" y="3087" width="38.7" height="37.5" fill="#d2691e" class="e"/>
<rect x="1881.4" y="3113.3" width="38.7" height="15.2" fill="#d2691e" class="e"/>
<rect x="2074.8" y="3121.3" width="38.7" height="15.5" fill="#d2691e" class="e"/>
<rect x="140.9" y="2930.7" width="38.7" height="30.1" fill="#d2691e"/><rect x="140.9" y="2930.7" width="38.7" height="30.1" fill="url(#hb)"/><rect x="140.9" y="2930.7" width="38.7" height="30.1" fill="none" class="e"/>
<rect x="179.6" y="2933.1" width="38.7" height="30.4" fill="#d2691e"/><rect x="179.6" y="2933.1" width="38.7" height="30.4" fill="url(#hb)"/><rect x="179.6" y="2933.1" width="38.7" height="30.4" fill="none" class="e"/>
<rect x="218.3" y="2953.4" width="38.7" height="29.5" fill="#d2691e"/><rect x="218.3" y="2953.4" width="38.7" height="29.5" fill="url(#hb)"/><rect x="218.3" y="2953.4" width="38.7" height="29.5" fill="none" class="e"/>
<rect x="256.9" y="2954.3" width="38.7" height="31.3" fill="#d2691e"/><rect x="256.9" y="2954.3" width="38.7" height="31.3" fill="url(#hb)"/><rect x="256.9" y="2954.3" width="38.7" height="31.3" fill="none" class="e"/>
<rect x="295.6" y="2945.2" width="38.7" height="33.1" fill="#d2691e"/><rect x="295.6" y="2945.2" width="38.7" height="33.1" fill="url(#hb)"/><rect x="295.6" y="2945.2" width="38.7" height="33.1" fill="none" class="e"/>
<rect x="334.3" y="2952.5" width="38.7" height="35" fill="#d2691e"/><rect x="334.3" y="2952.5" width="38.7" height="35" fill="url(#hb)"/><rect x="334.3" y="2952.5" width="38.7" height="35" fill="none" class="e"/>
<rect x="373" y="2954.3" width="38.7" height="36.9" fill="#d2691e"/><rect x="373" y="2954.3" width="38.7" height="36.9" fill="url(#hb)"/><rect x="373" y="2954.3" width="38.7" height="36.9" fill="none" class="e"/>
<rect x="411.6" y="2948.8" width="38.7" height="38.7" fill="#d2691e"/><rect x="411.6" y="2948.8" width="38.7" height="38.7" fill="url(#hb)"/><rect x="411.6" y="2948.8" width="38.7" height="38.7" fill="none" class="e"/>
<rect x="450.3" y="2943.3" width="38.7" height="42.4" fill="#d2691e"/><rect x="450.3" y="2943.3" width="38.7" height="42.4" fill="url(#hb)"/><rect x="450.3" y="2943.3" width="38.7" height="42.4" fill="none" class="e"/>
<rect x="489" y="2944.2" width="38.7" height="46.1" fill="#d2691e"/><rect x="489" y="2944.2" width="38.7" height="46.1" fill="url(#hb)"/><rect x="489" y="2944.2" width="38.7" height="46.1" fill="none" class="e"/>
<rect x="527.7" y="2935" width="38.7" height="48.8" fill="#d2691e"/><rect x="527.7" y="2935" width="38.7" height="48.8" fill="url(#hb)"/><rect x="527.7" y="2935" width="38.7" height="48.8" fill="none" class="e"/>
<rect x="566.4" y="2924.9" width="38.7" height="47.9" fill="#d2691e"/><rect x="566.4" y="2924.9" width="38.7" height="47.9" fill="url(#hb)"/><rect x="566.4" y="2924.9" width="38.7" height="47.9" fill="none" class="e"/>
<rect x="605" y="2926.7" width="38.7" height="53.4" fill="#d2691e"/><rect x="605" y="2926.7" width="38.7" height="53.4" fill="url(#hb)"/><rect x="605" y="2926.7" width="38.7" height="53.4" fill="none" class="e"/>
<rect x="643.7" y="2936.8" width="38.7" height="61.7" fill="#d2691e"/><rect x="643.7" y="2936.8" width="38.7" height="61.7" fill="url(#hb)"/><rect x="643.7" y="2936.8" width="38.7" height="61.7" fill="none" class="e"/>
<rect x="682.4" y="2917.4" width="38.7" height="59.9" fill="#d2691e"/><rect x="682.4" y="2917.4" width="38.7" height="59.9" fill="url(#hb)"/><rect x="682.4" y="2917.4" width="38.7" height="59.9" fill="none" class="e"/>
<rect x="721.1" y="2939.6" width="38.7" height="60.8" fill="#d2691e"/><rect x="721.1" y="2939.6" width="38.7" height="60.8" fill="url(#hb)"/><rect x="721.1" y="2939.6" width="38.7" height="60.8" fill="none" class="e"/>
<rect x="759.8" y="2959.8" width="38.7" height="60.8" fill="#d2691e"/><rect x="759.8" y="2959.8" width="38.7" height="60.8" fill="url(#hb)"/><rect x="759.8" y="2959.8" width="38.7" height="60.8" fill="none" class="e"/>
<rect x="798.4" y="2966.3" width="38.7" height="61.8" fill="#d2691e"/><rect x="798.4" y="2966.3" width="38.7" height="61.8" fill="url(#hb)"/><rect x="798.4" y="2966.3" width="38.7" height="61.8" fill="none" class="e"/>
<rect x="837.1" y="2974.6" width="38.7" height="61.7" fill="#d2691e"/><rect x="837.1" y="2974.6" width="38.7" height="61.7" fill="url(#hb)"/><rect x="837.1" y="2974.6" width="38.7" height="61.7" fill="none" class="e"/>
<rect x="875.8" y="2981" width="38.7" height="62.7" fill="#d2691e"/><rect x="875.8" y="2981" width="38.7" height="62.7" fill="url(#hb)"/><rect x="875.8" y="2981" width="38.7" height="62.7" fill="none" class="e"/>
<rect x="914.5" y="2995" width="38.7" height="64.2" fill="#d2691e"/><rect x="914.5" y="2995" width="38.7" height="64.2" fill="url(#hb)"/><rect x="914.5" y="2995" width="38.7" height="64.2" fill="none" class="e"/>
<rect x="1107.9" y="2941.6" width="38.7" height="64.6" fill="#d2691e"/><rect x="1107.9" y="2941.6" width="38.7" height="64.6" fill="url(#hb)"/><rect x="1107.9" y="2941.6" width="38.7" height="64.6" fill="none" class="e"/>
<rect x="1301.3" y="2971.9" width="38.7" height="63.5" fill="#d2691e"/><rect x="1301.3" y="2971.9" width="38.7" height="63.5" fill="url(#hb)"/><rect x="1301.3" y="2971.9" width="38.7" height="63.5" fill="none" class="e"/>
<rect x="1494.6" y="2994.3" width="38.7" height="59.9" fill="#d2691e"/><rect x="1494.6" y="2994.3" width="38.7" height="59.9" fill="url(#hb)"/><rect x="1494.6" y="2994.3" width="38.7" height="59.9" fill="none" class="e"/>
<rect x="1688" y="3034.3" width="38.7" height="52.7" fill="#d2691e"/><rect x="1688" y="3034.3" width="38.7" height="52.7" fill="url(#hb)"/><rect x="1688" y="3034.3" width="38.7" height="52.7" fill="none" class="e"/>
<rect x="1881.4" y="3066.4" width="38.7" height="46.9" fill="#d2691e"/><rect x="1881.4" y="3066.4" width="38.7" height="46.9" fill="url(#hb)"/><rect x="1881.4" y="3066.4" width="38.7" height="46.9" fill="none" class="e"/>
<rect x="2074.8" y="3080.1" width="38.7" height="41.1" fill="#d2691e"/><rect x="2074.8" y="3080.1" width="38.7" height="41.1" fill="url(#hb)"/><rect x="2074.8" y="3080.1" width="38.7" height="41.1" fill="none" class="e"/>
<rect x="140.9" y="2844.8" width="38.7" height="85.9" fill="#ff0000" class="e"/>
<rect x="179.6" y="2847.6" width="38.7" height="85.5" fill="#ff0000" class="e"/>
<rect x="218.3" y="2868.8" width="38.7" height="84.6" fill="#ff0000" class="e"/>
<rect x="256.9" y="2873.5" width="38.7" height="80.8" fill="#ff0000" class="e"/>
<rect x="295.6" y="2867.9" width="38.7" height="77.2" fill="#ff0000" class="e"/>
<rect x="334.3" y="2875.4" width="38.7" height="77.1" fill="#ff0000" class="e"/>
<rect x="373" y="2877.2" width="38.7" height="77.1" fill="#ff0000" class="e"/>
<rect x="411.6" y="2872.4" width="38.7" height="76.4" fill="#ff0000" class="e"/>
<rect x="450.3" y="2865.9" width="38.7" height="77.3" fill="#ff0000" class="e"/>
<rect x="489" y="2866.8" width="38.7" height="77.3" fill="#ff0000" class="e"/>
<rect x="527.7" y="2857.4" width="38.7" height="77.6" fill="#ff0000" class="e"/>
<rect x="566.4" y="2878.8" width="38.7" height="46.1" fill="#ff0000" class="e"/>
<rect x="605" y="2881.6" width="38.7" height="45.1" fill="#ff0000" class="e"/>
<rect x="643.7" y="2891.7" width="38.7" height="45.1" fill="#ff0000" class="e"/>
<rect x="682.4" y="2871.4" width="38.7" height="46" fill="#ff0000" class="e"/>
<rect x="721.1" y="2896.4" width="38.7" height="43.3" fill="#ff0000" class="e"/>
<rect x="759.8" y="2917.4" width="38.7" height="42.4" fill="#ff0000" class="e"/>
<rect x="798.4" y="2926.7" width="38.7" height="39.6" fill="#ff0000" class="e"/>
<rect x="837.1" y="2936.8" width="38.7" height="37.8" fill="#ff0000" class="e"/>
<rect x="875.8" y="2946.1" width="38.7" height="35" fill="#ff0000" class="e"/>
<rect x="914.5" y="2962.1" width="38.7" height="32.8" fill="#ff0000" class="e"/>
<rect x="140.9" y="2828.6" width="38.7" height="16.3" fill="#696969" class="e"/>
<rect x="179.6" y="2833.3" width="38.7" height="14.4" fill="#696969" class="e"/>
<rect x="218.3" y="2856.4" width="38.7" height="12.5" fill="#696969" class="e"/>
<rect x="256.9" y="2860.6" width="38.7" height="12.9" fill="#696969" class="e"/>
<rect x="295.6" y="2855.1" width="38.7" height="12.9" fill="#696969" class="e"/>
<rect x="334.3" y="2858.8" width="38.7" height="16.6" fill="#696969" class="e"/>
<rect x="373" y="2858.8" width="38.7" height="18.4" fill="#696969" class="e"/>
<rect x="411.6" y="2853.1" width="38.7" height="19.3" fill="#696969" class="e"/>
<rect x="450.3" y="2848.5" width="38.7" height="17.5" fill="#696969" class="e"/>
<rect x="489" y="2852.2" width="38.7" height="14.7" fill="#696969" class="e"/>
<rect x="527.7" y="2837.6" width="38.7" height="19.8" fill="#696969" class="e"/>
<rect x="566.4" y="2861.3" width="38.7" height="17.5" fill="#696969" class="e"/>
<rect x="605" y="2863.2" width="38.7" height="18.4" fill="#696969" class="e"/>
<rect x="643.7" y="2874.3" width="38.7" height="17.5" fill="#696969" class="e"/>
<rect x="682.4" y="2851.9" width="38.7" height="19.6" fill="#696969" class="e"/>
<rect x="721.1" y="2879.8" width="38.7" height="16.6" fill="#696969" class="e"/>
<rect x="759.8" y="2901.9" width="38.7" height="15.6" fill="#696969" class="e"/>
<rect x="798.4" y="2911" width="38.7" height="15.7" fill="#696969" class="e"/>
<rect x="837.1" y="2922.1" width="38.7" height="14.8" fill="#696969" class="e"/>
<rect x="875.8" y="2932.2" width="38.7" height="13.9" fill="#696969" class="e"/>
<rect x="914.5" y="2935.4" width="38.7" height="26.7" fill="#696969" class="e"/>
<rect x="1107.9" y="2922.1" width="38.7" height="19.5" fill="#696969" class="e"/>
<rect x="1301.3" y="2954.6" width="38.7" height="17.3" fill="#696969" class="e"/>
<rect x="1494.6" y="2980.9" width="38.7" height="13.4" fill="#696969" class="e"/>
<rect x="1688" y="3021" width="38.7" height="13.4" fill="#696969" class="e"/>
<rect x="1881.4" y="3057" width="38.7" height="9.4" fill="#696969" class="e"/>
<rect x="2074.8" y="3074.4" width="38.7" height="5.8" fill="#696969" class="e"/>
<rect x="140.9" y="2826.4" width="38.7" height="2.2" fill="#696969"/><rect x="140.9" y="2826.4" width="38.7" height="2.2" fill="url(#hb)"/><rect x="140.9" y="2826.4" width="38.7" height="2.2" fill="none" class="e"/>
<rect x="179.6" y="2830.8" width="38.7" height="2.5" fill="#696969"/><rect x="179.6" y="2830.8" width="38.7" height="2.5" fill="url(#hb)"/><rect x="179.6" y="2830.8" width="38.7" height="2.5" fill="none" class="e"/>
<rect x="218.3" y="2853.9" width="38.7" height="2.5" fill="#696969"/><rect x="218.3" y="2853.9" width="38.7" height="2.5" fill="url(#hb)"/><rect x="218.3" y="2853.9" width="38.7" height="2.5" fill="none" class="e"/>
<rect x="140.9" y="2824.1" width="38.7" height="2.2" fill="#2e8b57" class="e"/>
<rect x="179.6" y="2828.3" width="38.7" height="2.5" fill="#2e8b57" class="e"/>
<rect x="218.3" y="2851.4" width="38.7" height="2.5" fill="#2e8b57" class="e"/>
<rect x="334.3" y="2854.4" width="38.7" height="4.4" fill="#2e8b57" class="e"/>
<rect x="373" y="2853.9" width="38.7" height="4.9" fill="#2e8b57" class="e"/>
<rect x="411.6" y="2847.5" width="38.7" height="5.5" fill="#2e8b57" class="e"/>
<rect x="450.3" y="2842" width="38.7" height="6.4" fill="#2e8b57" class="e"/>
<rect x="489" y="2842.9" width="38.7" height="9.2" fill="#2e8b57" class="e"/>
<rect x="527.7" y="2827.3" width="38.7" height="10.3" fill="#2e8b57" class="e"/>
<rect x="566.4" y="2848.5" width="38.7" height="12.9" fill="#2e8b57" class="e"/>
<rect x="605" y="2851.2" width="38.7" height="12.1" fill="#2e8b57" class="e"/>
<rect x="643.7" y="2861.3" width="38.7" height="13" fill="#2e8b57" class="e"/>
<rect x="682.4" y="2839.8" width="38.7" height="12.1" fill="#2e8b57" class="e"/>
<rect x="721.1" y="2863.2" width="38.7" height="16.6" fill="#2e8b57" class="e"/>
<rect x="759.8" y="2884.3" width="38.7" height="17.6" fill="#2e8b57" class="e"/>
<rect x="798.4" y="2895.4" width="38.7" height="15.7" fill="#2e8b57" class="e"/>
<rect x="837.1" y="2906.4" width="38.7" height="15.7" fill="#2e8b57" class="e"/>
<rect x="875.8" y="2916.5" width="38.7" height="15.7" fill="#2e8b57" class="e"/>
<rect x="914.5" y="2921.7" width="38.7" height="13.7" fill="#2e8b57" class="e"/>
<rect x="1107.9" y="2908.7" width="38.7" height="13.4" fill="#2e8b57" class="e"/>
<rect x="1301.3" y="2941.6" width="38.7" height="13" fill="#2e8b57" class="e"/>
<rect x="1494.6" y="2969" width="38.7" height="11.9" fill="#2e8b57" class="e"/>
<rect x="1688" y="3011.9" width="38.7" height="9" fill="#2e8b57" class="e"/>
<rect x="1881.4" y="3050.9" width="38.7" height="6.1" fill="#2e8b57" class="e"/>
<rect x="256.9" y="2852.4" width="38.7" height="8.2" fill="#2e8b57"/><rect x="256.9" y="2852.4" width="38.7" height="8.2" fill="url(#hb)"/><rect x="256.9" y="2852.4" width="38.7" height="8.2" fill="none" class="e"/>
<rect x="295.6" y="2844.9" width="38.7" height="10.1" fill="#2e8b57"/><rect x="295.6" y="2844.9" width="38.7" height="10.1" fill="url(#hb)"/><rect x="295.6" y="2844.9" width="38.7" height="10.1" fill="none" class="e"/>
<rect x="334.3" y="2849.6" width="38.7" height="4.8" fill="#2e8b57"/><rect x="334.3" y="2849.6" width="38.7" height="4.8" fill="url(#hb)"/><rect x="334.3" y="2849.6" width="38.7" height="4.8" fill="none" class="e"/>
<rect x="373" y="2848.7" width="38.7" height="5.2" fill="#2e8b57"/><rect x="373" y="2848.7" width="38.7" height="5.2" fill="url(#hb)"/><rect x="373" y="2848.7" width="38.7" height="5.2" fill="none" class="e"/>
<rect x="411.6" y="2840.3" width="38.7" height="7.2" fill="#2e8b57"/><rect x="411.6" y="2840.3" width="38.7" height="7.2" fill="url(#hb)"/><rect x="411.6" y="2840.3" width="38.7" height="7.2" fill="none" class="e"/>
<rect x="450.3" y="2834" width="38.7" height="8" fill="#2e8b57"/><rect x="450.3" y="2834" width="38.7" height="8" fill="url(#hb)"/><rect x="450.3" y="2834" width="38.7" height="8" fill="none" class="e"/>
<rect x="489" y="2833.1" width="38.7" height="9.8" fill="#2e8b57"/><rect x="489" y="2833.1" width="38.7" height="9.8" fill="url(#hb)"/><rect x="489" y="2833.1" width="38.7" height="9.8" fill="none" class="e"/>
<rect x="527.7" y="2817.7" width="38.7" height="9.5" fill="#2e8b57"/><rect x="527.7" y="2817.7" width="38.7" height="9.5" fill="url(#hb)"/><rect x="527.7" y="2817.7" width="38.7" height="9.5" fill="none" class="e"/>
<rect x="566.4" y="2838.1" width="38.7" height="10.3" fill="#2e8b57"/><rect x="566.4" y="2838.1" width="38.7" height="10.3" fill="url(#hb)"/><rect x="566.4" y="2838.1" width="38.7" height="10.3" fill="none" class="e"/>
<rect x="605" y="2839" width="38.7" height="12.2" fill="#2e8b57"/><rect x="605" y="2839" width="38.7" height="12.2" fill="url(#hb)"/><rect x="605" y="2839" width="38.7" height="12.2" fill="none" class="e"/>
<rect x="643.7" y="2844.5" width="38.7" height="16.8" fill="#2e8b57"/><rect x="643.7" y="2844.5" width="38.7" height="16.8" fill="url(#hb)"/><rect x="643.7" y="2844.5" width="38.7" height="16.8" fill="none" class="e"/>
<rect x="682.4" y="2821.2" width="38.7" height="18.6" fill="#2e8b57"/><rect x="682.4" y="2821.2" width="38.7" height="18.6" fill="url(#hb)"/><rect x="682.4" y="2821.2" width="38.7" height="18.6" fill="none" class="e"/>
<rect x="721.1" y="2847.3" width="38.7" height="15.9" fill="#2e8b57"/><rect x="721.1" y="2847.3" width="38.7" height="15.9" fill="url(#hb)"/><rect x="721.1" y="2847.3" width="38.7" height="15.9" fill="none" class="e"/>
<rect x="759.8" y="2868.7" width="38.7" height="15.6" fill="#2e8b57"/><rect x="759.8" y="2868.7" width="38.7" height="15.6" fill="url(#hb)"/><rect x="759.8" y="2868.7" width="38.7" height="15.6" fill="none" class="e"/>
<rect x="798.4" y="2877.9" width="38.7" height="17.5" fill="#2e8b57"/><rect x="798.4" y="2877.9" width="38.7" height="17.5" fill="url(#hb)"/><rect x="798.4" y="2877.9" width="38.7" height="17.5" fill="none" class="e"/>
<rect x="837.1" y="2888" width="38.7" height="18.4" fill="#2e8b57"/><rect x="837.1" y="2888" width="38.7" height="18.4" fill="url(#hb)"/><rect x="837.1" y="2888" width="38.7" height="18.4" fill="none" class="e"/>
<rect x="875.8" y="2897.3" width="38.7" height="19.3" fill="#2e8b57"/><rect x="875.8" y="2897.3" width="38.7" height="19.3" fill="url(#hb)"/><rect x="875.8" y="2897.3" width="38.7" height="19.3" fill="none" class="e"/>
<rect x="914.5" y="2900.4" width="38.7" height="21.3" fill="#2e8b57"/><rect x="914.5" y="2900.4" width="38.7" height="21.3" fill="url(#hb)"/><rect x="914.5" y="2900.4" width="38.7" height="21.3" fill="none" class="e"/>
<rect x="1107.9" y="2888.9" width="38.7" height="19.8" fill="#2e8b57"/><rect x="1107.9" y="2888.9" width="38.7" height="19.8" fill="url(#hb)"/><rect x="1107.9" y="2888.9" width="38.7" height="19.8" fill="none" class="e"/>
<rect x="1301.3" y="2924.3" width="38.7" height="17.3" fill="#2e8b57"/><rect x="1301.3" y="2924.3" width="38.7" height="17.3" fill="url(#hb)"/><rect x="1301.3" y="2924.3" width="38.7" height="17.3" fill="none" class="e"/>
<rect x="1494.6" y="2954.2" width="38.7" height="14.8" fill="#2e8b57"/><rect x="1494.6" y="2954.2" width="38.7" height="14.8" fill="url(#hb)"/><rect x="1494.6" y="2954.2" width="38.7" height="14.8" fill="none" class="e"/>
<rect x="1688" y="3000.4" width="38.7" height="11.5" fill="#2e8b57"/><rect x="1688" y="3000.4" width="38.7" height="11.5" fill="url(#hb)"/><rect x="1688" y="3000.4" width="38.7" height="11.5" fill="none" class="e"/>
<rect x="1881.4" y="3042.2" width="38.7" height="8.7" fill="#2e8b57"/><rect x="1881.4" y="3042.2" width="38.7" height="8.7" fill="url(#hb)"/><rect x="1881.4" y="3042.2" width="38.7" height="8.7" fill="none" class="e"/>
<rect x="2074.8" y="3068.6" width="38.7" height="5.8" fill="#2e8b57"/><rect x="2074.8" y="3068.6" width="38.7" height="5.8" fill="url(#hb)"/><rect x="2074.8" y="3068.6" width="38.7" height="5.8" fill="none" class="e"/>
<rect x="140.9" y="2802.7" width="38.7" height="21.5" fill="#00bfff" class="e"/>
<rect x="179.6" y="2796.1" width="38.7" height="32.1" fill="#00bfff" class="e"/>
<rect x="218.3" y="2808.1" width="38.7" height="43.3" fill="#00bfff" class="e"/>
<rect x="256.9" y="2801.6" width="38.7" height="50.7" fill="#00bfff" class="e"/>
<rect x="295.6" y="2786.9" width="38.7" height="58" fill="#00bfff" class="e"/>
<rect x="334.3" y="2783.3" width="38.7" height="66.3" fill="#00bfff" class="e"/>
<rect x="373" y="2774" width="38.7" height="74.6" fill="#00bfff" class="e"/>
<rect x="411.6" y="2761.5" width="38.7" height="78.8" fill="#00bfff" class="e"/>
<rect x="450.3" y="2752.3" width="38.7" height="81.7" fill="#00bfff" class="e"/>
<rect x="489" y="2740.9" width="38.7" height="92.2" fill="#00bfff" class="e"/>
<rect x="527.7" y="2721.9" width="38.7" height="95.8" fill="#00bfff" class="e"/>
<rect x="566.4" y="2734.9" width="38.7" height="103.2" fill="#00bfff" class="e"/>
<rect x="605" y="2727.4" width="38.7" height="111.6" fill="#00bfff" class="e"/>
<rect x="643.7" y="2724.7" width="38.7" height="119.8" fill="#00bfff" class="e"/>
<rect x="682.4" y="2685" width="38.7" height="136.2" fill="#00bfff" class="e"/>
<rect x="721.1" y="2697.9" width="38.7" height="149.4" fill="#00bfff" class="e"/>
<rect x="759.8" y="2709" width="38.7" height="159.8" fill="#00bfff" class="e"/>
<rect x="798.4" y="2707.1" width="38.7" height="170.7" fill="#00bfff" class="e"/>
<rect x="837.1" y="2706.2" width="38.7" height="181.8" fill="#00bfff" class="e"/>
<rect x="875.8" y="2706.2" width="38.7" height="191" fill="#00bfff" class="e"/>
<rect x="914.5" y="2694.8" width="38.7" height="205.7" fill="#00bfff" class="e"/>
<rect x="1107.9" y="2672" width="38.7" height="216.9" fill="#00bfff" class="e"/>
<rect x="1301.3" y="2709.2" width="38.7" height="215.1" fill="#00bfff" class="e"/>
<rect x="1494.6" y="2741.7" width="38.7" height="212.5" fill="#00bfff" class="e"/>
<rect x="1688" y="2788.6" width="38.7" height="211.8" fill="#00bfff" class="e"/>
<rect x="1881.4" y="2821.8" width="38.7" height="220.5" fill="#00bfff" class="e"/>
<rect x="2074.8" y="2817.8" width="38.7" height="250.8" fill="#00bfff" class="e"/>
<rect x="682.4" y="2683.6" width="38.7" height="1.4" fill="#1e90ff" class="e"/>
<rect x="721.1" y="2686.9" width="38.7" height="11" fill="#1e90ff" class="e"/>
<rect x="759.8" y="2693.3" width="38.7" height="15.7" fill="#1e90ff" class="e"/>
<rect x="798.4" y="2687.8" width="38.7" height="19.4" fill="#1e90ff" class="e"/>
<rect x="837.1" y="2684.1" width="38.7" height="22.1" fill="#1e90ff" class="e"/>
<rect x="875.8" y="2678.6" width="38.7" height="27.6" fill="#1e90ff" class="e"/>
<rect x="914.5" y="2668.1" width="38.7" height="26.7" fill="#1e90ff" class="e"/>
<rect x="1107.9" y="2647.9" width="38.7" height="24.2" fill="#1e90ff" class="e"/>
<rect x="1301.3" y="2685.8" width="38.7" height="23.5" fill="#1e90ff" class="e"/>
<rect x="1494.6" y="2718.9" width="38.7" height="22.7" fill="#1e90ff" class="e"/>
<rect x="1688" y="2766.2" width="38.7" height="22.4" fill="#1e90ff" class="e"/>
<rect x="1881.4" y="2799.4" width="38.7" height="22.4" fill="#1e90ff" class="e"/>
<rect x="2074.8" y="2797.2" width="38.7" height="20.6" fill="#1e90ff" class="e"/>
<rect x="295.6" y="2783.3" width="38.7" height="3.6" fill="#ffff00" class="e"/>
<rect x="334.3" y="2777.7" width="38.7" height="5.5" fill="#ffff00" class="e"/>
<rect x="373" y="2763.9" width="38.7" height="10.1" fill="#ffff00" class="e"/>
<rect x="411.6" y="2745.9" width="38.7" height="15.6" fill="#ffff00" class="e"/>
<rect x="450.3" y="2730.2" width="38.7" height="22.1" fill="#ffff00" class="e"/>
<rect x="489" y="2702.9" width="38.7" height="38" fill="#ffff00" class="e"/>
<rect x="527.7" y="2656.5" width="38.7" height="65.4" fill="#ffff00" class="e"/>
<rect x="566.4" y="2640.9" width="38.7" height="94" fill="#ffff00" class="e"/>
<rect x="605" y="2604.1" width="38.7" height="123.3" fill="#ffff00" class="e"/>
<rect x="643.7" y="2591.1" width="38.7" height="133.6" fill="#ffff00" class="e"/>
<rect x="682.4" y="2546.9" width="38.7" height="136.8" fill="#ffff00" class="e"/>
<rect x="721.1" y="2546" width="38.7" height="140.9" fill="#ffff00" class="e"/>
<rect x="759.8" y="2542.3" width="38.7" height="150.9" fill="#ffff00" class="e"/>
<rect x="798.4" y="2527.6" width="38.7" height="160.2" fill="#ffff00" class="e"/>
<rect x="837.1" y="2513.7" width="38.7" height="170.4" fill="#ffff00" class="e"/>
<rect x="875.8" y="2499" width="38.7" height="179.6" fill="#ffff00" class="e"/>
<rect x="914.5" y="2481.9" width="38.7" height="186.2" fill="#ffff00" class="e"/>
<rect x="1107.9" y="2471.1" width="38.7" height="176.8" fill="#ffff00" class="e"/>
<rect x="1301.3" y="2527.7" width="38.7" height="158" fill="#ffff00" class="e"/>
<rect x="1494.6" y="2582.9" width="38.7" height="136" fill="#ffff00" class="e"/>
<rect x="1688" y="2656.5" width="38.7" height="109.7" fill="#ffff00" class="e"/>
<rect x="1881.4" y="2723.6" width="38.7" height="75.8" fill="#ffff00" class="e"/>
<rect x="2074.8" y="2755.4" width="38.7" height="41.9" fill="#ffff00" class="e"/>
<rect x="140.9" y="2783.6" width="38.7" height="19.1" fill="#0000ff" class="e"/>
<rect x="179.6" y="2776.8" width="38.7" height="19.3" fill="#0000ff" class="e"/>
<rect x="218.3" y="2787.9" width="38.7" height="20.2" fill="#0000ff" class="e"/>
<rect x="256.9" y="2781.4" width="38.7" height="20.3" fill="#0000ff" class="e"/>
<rect x="295.6" y="2762.1" width="38.7" height="21.2" fill="#0000ff" class="e"/>
<rect x="334.3" y="2755.7" width="38.7" height="22.1" fill="#0000ff" class="e"/>
<rect x="373" y="2743.7" width="38.7" height="20.2" fill="#0000ff" class="e"/>
<rect x="411.6" y="2726.5" width="38.7" height="19.4" fill="#0000ff" class="e"/>
<rect x="450.3" y="2710" width="38.7" height="20.3" fill="#0000ff" class="e"/>
<rect x="489" y="2683.2" width="38.7" height="19.7" fill="#0000ff" class="e"/>
<rect x="527.7" y="2636.2" width="38.7" height="20.3" fill="#0000ff" class="e"/>
<rect x="566.4" y="2620.7" width="38.7" height="20.2" fill="#0000ff" class="e"/>
<rect x="605" y="2582" width="38.7" height="22.1" fill="#0000ff" class="e"/>
<rect x="643.7" y="2570" width="38.7" height="21.2" fill="#0000ff" class="e"/>
<rect x="682.4" y="2525.8" width="38.7" height="21.1" fill="#0000ff" class="e"/>
<rect x="721.1" y="2525.8" width="38.7" height="20.2" fill="#0000ff" class="e"/>
<rect x="759.8" y="2522" width="38.7" height="20.3" fill="#0000ff" class="e"/>
<rect x="798.4" y="2507.3" width="38.7" height="20.3" fill="#0000ff" class="e"/>
<rect x="837.1" y="2492.6" width="38.7" height="21.1" fill="#0000ff" class="e"/>
<rect x="875.8" y="2477.9" width="38.7" height="21.2" fill="#0000ff" class="e"/>
<rect x="914.5" y="2461" width="38.7" height="20.9" fill="#0000ff" class="e"/>
<rect x="1107.9" y="2448.7" width="38.7" height="22.4" fill="#0000ff" class="e"/>
<rect x="1301.3" y="2507.1" width="38.7" height="20.6" fill="#0000ff" class="e"/>
<rect x="1494.6" y="2564.2" width="38.7" height="18.8" fill="#0000ff" class="e"/>
<rect x="1688" y="2638.5" width="38.7" height="18" fill="#0000ff" class="e"/>
<rect x="1881.4" y="2705.6" width="38.7" height="18" fill="#0000ff" class="e"/>
<rect x="2074.8" y="2739.2" width="38.7" height="16.2" fill="#0000ff" class="e"/></g>
<path d="M133.9,96.3H2102.3V1533.4H133.9Z" fill="none" stroke="#000" stroke-width="3.2" stroke-linejoin="miter"/>
<path d="M116.9,1533.4H133.9M116.9,1353.8H133.9M116.9,1174.1H133.9M116.9,994.5H133.9M116.9,814.9H133.9M116.9,635.2H133.9M116.9,455.6H133.9M116.9,275.9H133.9M116.9,96.3H133.9M153.2,1533.4V1549.4M346.2,1533.4V1549.4M539.2,1533.4V1549.4M732.1,1533.4V1549.4M925.1,1533.4V1549.4M1118.1,1533.4V1549.4M1311.1,1533.4V1549.4M1504.1,1533.4V1549.4M1697,1533.4V1549.4M1890,1533.4V1549.4M2083,1533.4V1549.4" stroke="#000" stroke-width="3" fill="none"/>
<text x="100" y="1550.6" class="yt">0</text>
<text x="100" y="1371" class="yt">50</text>
<text x="100" y="1191.3" class="yt">100</text>
<text x="100" y="1011.7" class="yt">150</text>
<text x="100" y="832.1" class="yt">200</text>
<text x="100" y="652.4" class="yt">250</text>
<text x="100" y="472.8" class="yt">300</text>
<text x="100" y="293.1" class="yt">350</text>
<text x="100" y="113.5" class="yt">400</text>
<text x="153.2" y="1602.5" class="xt">2000</text>
<text x="346.2" y="1602.5" class="xt">2005</text>
<text x="539.2" y="1602.5" class="xt">2010</text>
<text x="732.1" y="1602.5" class="xt">2015</text>
<text x="925.1" y="1602.5" class="xt">2020</text>
<text x="1118.1" y="1602.5" class="xt">2025</text>
<text x="1311.1" y="1602.5" class="xt">2030</text>
<text x="1504.1" y="1602.5" class="xt">2035</text>
<text x="1697" y="1602.5" class="xt">2040</text>
<text x="1890" y="1602.5" class="xt">2045</text>
<text x="2083" y="1602.5" class="xt">2050</text>
<path d="M140.9,1789.1H2113.5V3232.4H140.9Z" fill="none" stroke="#000" stroke-width="3.2" stroke-linejoin="miter"/>
<path d="M123.9,3232.4H140.9M123.9,3052H140.9M123.9,2871.6H140.9M123.9,2691.2H140.9M123.9,2510.8H140.9M123.9,2330.3H140.9M123.9,2149.9H140.9M123.9,1969.5H140.9M123.9,1789.1H140.9M160.2,3232.4V3248.4M353.6,3232.4V3248.4M547,3232.4V3248.4M740.4,3232.4V3248.4M933.8,3232.4V3248.4M1127.2,3232.4V3248.4M1320.6,3232.4V3248.4M1514,3232.4V3248.4M1707.4,3232.4V3248.4M1900.8,3232.4V3248.4M2094.2,3232.4V3248.4" stroke="#000" stroke-width="3" fill="none"/>
<text x="106.5" y="3249.6" class="yt">0</text>
<text x="106.5" y="3069.2" class="yt">50</text>
<text x="106.5" y="2888.8" class="yt">100</text>
<text x="106.5" y="2708.4" class="yt">150</text>
<text x="106.5" y="2527.9" class="yt">200</text>
<text x="106.5" y="2347.5" class="yt">250</text>
<text x="106.5" y="2167.1" class="yt">300</text>
<text x="106.5" y="1986.7" class="yt">350</text>
<text x="106.5" y="1806.3" class="yt">400</text>
<text x="160.2" y="3302.5" class="xt">2000</text>
<text x="353.6" y="3302.5" class="xt">2005</text>
<text x="547" y="3302.5" class="xt">2010</text>
<text x="740.4" y="3302.5" class="xt">2015</text>
<text x="933.8" y="3302.5" class="xt">2020</text>
<text x="1127.2" y="3302.5" class="xt">2025</text>
<text x="1320.6" y="3302.5" class="xt">2030</text>
<text x="1514" y="3302.5" class="xt">2035</text>
<text x="1707.4" y="3302.5" class="xt">2040</text>
<text x="1900.8" y="3302.5" class="xt">2045</text>
<text x="2094.2" y="3302.5" class="xt">2050</text>
<rect x="166.2" y="129.6" width="69.3" height="23.4" fill="#000000" class="e"/>
<text x="263.7" y="154.1" class="lg">Hard Coal (PP)</text>
<rect x="166.2" y="180.9" width="69.3" height="23.4" fill="#000000"/><rect x="166.2" y="180.9" width="69.3" height="23.4" fill="url(#ha)"/><rect x="166.2" y="180.9" width="69.3" height="23.4" fill="none" class="e"/>
<text x="263.7" y="205.4" class="lg">Hard Coal (CHP)</text>
<rect x="166.2" y="232.3" width="69.3" height="23.4" fill="#850000" class="e"/>
<text x="263.7" y="256.8" class="lg">Lignite (PP)</text>
<rect x="166.2" y="283.6" width="69.3" height="23.4" fill="#850000"/><rect x="166.2" y="283.6" width="69.3" height="23.4" fill="url(#ha)"/><rect x="166.2" y="283.6" width="69.3" height="23.4" fill="none" class="e"/>
<text x="263.7" y="308.1" class="lg">Lignite (CHP)</text>
<rect x="166.2" y="334.9" width="69.3" height="23.4" fill="#c0c0c0" class="e"/>
<text x="263.7" y="359.4" class="lg">Mineral Oil (PP)</text>
<rect x="166.2" y="386.2" width="69.3" height="23.4" fill="#c0c0c0"/><rect x="166.2" y="386.2" width="69.3" height="23.4" fill="url(#ha)"/><rect x="166.2" y="386.2" width="69.3" height="23.4" fill="none" class="e"/>
<text x="263.7" y="410.8" class="lg">Mineral Oil (CHP)</text>
<rect x="166.2" y="437.6" width="69.3" height="23.4" fill="#d2691e" class="e"/>
<text x="263.7" y="462.1" class="lg">Natural Gas (PP)</text>
<rect x="166.2" y="488.9" width="69.3" height="23.4" fill="#d2691e"/><rect x="166.2" y="488.9" width="69.3" height="23.4" fill="url(#ha)"/><rect x="166.2" y="488.9" width="69.3" height="23.4" fill="none" class="e"/>
<text x="263.7" y="513.4" class="lg">Natural Gas (CHP)</text>
<rect x="166.2" y="540.2" width="69.3" height="23.4" fill="#ff0000" class="e"/>
<text x="263.7" y="564.7" class="lg">Nuclear</text>
<rect x="166.2" y="591.6" width="69.3" height="23.4" fill="#696969" class="e"/>
<text x="263.7" y="616.1" class="lg">Waste (PP)</text>
<rect x="693.1" y="129.6" width="69.2" height="23.4" fill="#696969"/><rect x="693.1" y="129.6" width="69.2" height="23.4" fill="url(#ha)"/><rect x="693.1" y="129.6" width="69.2" height="23.4" fill="none" class="e"/>
<text x="791" y="154.1" class="lg">Waste (CHP)</text>
<rect x="693.1" y="180.9" width="69.2" height="23.4" fill="#20b2aa" class="e"/>
<text x="791" y="205.4" class="lg">Hydrogen Fuel Cell</text>
<rect x="693.1" y="232.3" width="69.2" height="23.4" fill="#2e8b57" class="e"/>
<text x="791" y="256.8" class="lg">Biomass (PP)</text>
<rect x="693.1" y="283.6" width="69.2" height="23.4" fill="#2e8b57"/><rect x="693.1" y="283.6" width="69.2" height="23.4" fill="url(#ha)"/><rect x="693.1" y="283.6" width="69.2" height="23.4" fill="none" class="e"/>
<text x="791" y="308.1" class="lg">Biomass (CHP)</text>
<rect x="693.1" y="334.9" width="69.2" height="23.4" fill="#00bfff" class="e"/>
<text x="791" y="359.4" class="lg">Wind Onshore</text>
<rect x="693.1" y="386.2" width="69.2" height="23.4" fill="#1e90ff" class="e"/>
<text x="791" y="410.8" class="lg">Wind Offshore</text>
<rect x="693.1" y="437.6" width="69.2" height="23.4" fill="#ffff00" class="e"/>
<text x="791" y="462.1" class="lg">PV</text>
<rect x="693.1" y="488.9" width="69.2" height="23.4" fill="#0000ff" class="e"/>
<text x="791" y="513.4" class="lg">Hydro Power</text>
<rect x="693.1" y="540.2" width="69.2" height="23.4" fill="#ba55d3" class="e"/>
<text x="791" y="564.7" class="lg">Geothermal Energy</text>
<rect x="172.9" y="1823.2" width="69.4" height="23.4" fill="#000000" class="e"/>
<text x="270.6" y="1847.7" class="lg">Hard Coal (PP)</text>
<rect x="172.9" y="1874.5" width="69.4" height="23.4" fill="#000000"/><rect x="172.9" y="1874.5" width="69.4" height="23.4" fill="url(#hbl)"/><rect x="172.9" y="1874.5" width="69.4" height="23.4" fill="none" class="e"/>
<text x="270.6" y="1899" class="lg">Hard Coal (CHP)</text>
<rect x="172.9" y="1925.9" width="69.4" height="23.4" fill="#850000" class="e"/>
<text x="270.6" y="1950.4" class="lg">Lignite (PP)</text>
<rect x="172.9" y="1977.2" width="69.4" height="23.4" fill="#850000"/><rect x="172.9" y="1977.2" width="69.4" height="23.4" fill="url(#hbl)"/><rect x="172.9" y="1977.2" width="69.4" height="23.4" fill="none" class="e"/>
<text x="270.6" y="2001.8" class="lg">Lignite (CHP)</text>
<rect x="172.9" y="2028.6" width="69.4" height="23.4" fill="#c0c0c0" class="e"/>
<text x="270.6" y="2053.1" class="lg">Mineral Oil (PP)</text>
<rect x="172.9" y="2080" width="69.4" height="23.4" fill="#c0c0c0"/><rect x="172.9" y="2080" width="69.4" height="23.4" fill="url(#hbl)"/><rect x="172.9" y="2080" width="69.4" height="23.4" fill="none" class="e"/>
<text x="270.6" y="2104.5" class="lg">Mineral Oil (CHP)</text>
<rect x="172.9" y="2131.3" width="69.4" height="23.4" fill="#d2691e" class="e"/>
<text x="270.6" y="2155.8" class="lg">Natural Gas (PP)</text>
<rect x="172.9" y="2182.7" width="69.4" height="23.4" fill="#d2691e"/><rect x="172.9" y="2182.7" width="69.4" height="23.4" fill="url(#hbl)"/><rect x="172.9" y="2182.7" width="69.4" height="23.4" fill="none" class="e"/>
<text x="270.6" y="2207.2" class="lg">Natural Gas (CHP)</text>
<rect x="172.9" y="2234" width="69.4" height="23.4" fill="#ff0000" class="e"/>
<text x="270.6" y="2258.5" class="lg">Nuclear</text>
<rect x="700.9" y="1823.2" width="69.4" height="23.4" fill="#696969" class="e"/>
<text x="801" y="1847.7" class="lg">Waste (PP)</text>
<rect x="700.9" y="1874.5" width="69.4" height="23.4" fill="#696969"/><rect x="700.9" y="1874.5" width="69.4" height="23.4" fill="url(#hbl)"/><rect x="700.9" y="1874.5" width="69.4" height="23.4" fill="none" class="e"/>
<text x="801" y="1899" class="lg">Waste (CHP)</text>
<rect x="700.9" y="1925.9" width="69.4" height="23.4" fill="#2e8b57" class="e"/>
<text x="801" y="1950.4" class="lg">Biomass (PP)</text>
<rect x="700.9" y="1977.2" width="69.4" height="23.4" fill="#2e8b57"/><rect x="700.9" y="1977.2" width="69.4" height="23.4" fill="url(#hbl)"/><rect x="700.9" y="1977.2" width="69.4" height="23.4" fill="none" class="e"/>
<text x="801" y="2001.8" class="lg">Biomass (CHP)</text>
<rect x="700.9" y="2028.6" width="69.4" height="23.4" fill="#00bfff" class="e"/>
<text x="801" y="2053.1" class="lg">Wind Onshore</text>
<rect x="700.9" y="2080" width="69.4" height="23.4" fill="#1e90ff" class="e"/>
<text x="801" y="2104.5" class="lg">Wind Offshore</text>
<rect x="700.9" y="2131.3" width="69.4" height="23.4" fill="#ffff00" class="e"/>
<text x="801" y="2155.8" class="lg">PV</text>
<rect x="700.9" y="2182.7" width="69.4" height="23.4" fill="#0000ff" class="e"/>
<text x="801" y="2207.2" class="lg">Hydro Power</text>
<rect x="700.9" y="2234" width="69.4" height="23.4" fill="#ba55d3" class="e"/>
<text x="801" y="2258.5" class="lg">Geothermal Energy</text>
<text x="23" y="52.5" class="gw">GW</text>
<text x="22.7" y="1737" class="gw">GW</text>
<text transform="translate(1058.3,1696) scale(0.87,1)" class="lab">(</text>
<text transform="translate(1086.8,1696) scale(0.866,1)" class="lab">a</text>
<text transform="translate(1137.6,1696) scale(0.87,1)" class="lab">)</text>
<text transform="translate(1058.3,3393) scale(0.87,1)" class="lab">(</text>
<text transform="translate(1086.6,3393)" class="lab">b</text>
<text transform="translate(1143.5,3393) scale(0.87,1)" class="lab">)</text>
</g>
</svg></body></html>
